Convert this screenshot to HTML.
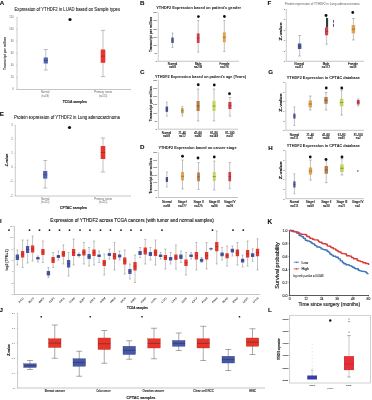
<!DOCTYPE html>
<html><head><meta charset="utf-8"><style>
html,body{margin:0;padding:0;background:#fff;width:372px;height:400px;overflow:hidden}
svg{display:block}
text{font-family:"Liberation Sans", sans-serif}
svg{will-change:transform}
</style></head><body>
<svg width="372" height="400" viewBox="0 0 372 400">
<rect width="372" height="400" fill="#fff"/>
<text x="-0.3" y="5" font-size="6.206" text-anchor="start" font-weight="bold" fill="#111" stroke="#111" stroke-width="0.1">A</text>
<text x="14.5" y="11.3" font-size="4.7" text-anchor="start" font-weight="normal" fill="#222" stroke="#222" stroke-width="0.08" textLength="105.5" lengthAdjust="spacingAndGlyphs">Expression of YTHDF2 in LUAD based on Sample types</text>
<line x1="17" y1="17.3" x2="17" y2="89.5" stroke="#999" stroke-width="0.5"/>
<line x1="17" y1="89.5" x2="131" y2="89.5" stroke="#888" stroke-width="0.5"/>
<text x="13.6" y="18.25" font-size="2.6" text-anchor="end" font-weight="normal" fill="#666">120</text>
<line x1="16" y1="17.3" x2="17" y2="17.3" stroke="#999" stroke-width="0.35"/>
<text x="13.6" y="30.25" font-size="2.6" text-anchor="end" font-weight="normal" fill="#666">100</text>
<line x1="16" y1="29.3" x2="17" y2="29.3" stroke="#999" stroke-width="0.35"/>
<text x="13.6" y="42.25" font-size="2.6" text-anchor="end" font-weight="normal" fill="#666">80</text>
<line x1="16" y1="41.3" x2="17" y2="41.3" stroke="#999" stroke-width="0.35"/>
<text x="13.6" y="54.35" font-size="2.6" text-anchor="end" font-weight="normal" fill="#666">60</text>
<line x1="16" y1="53.4" x2="17" y2="53.4" stroke="#999" stroke-width="0.35"/>
<text x="13.6" y="66.35000000000001" font-size="2.6" text-anchor="end" font-weight="normal" fill="#666">40</text>
<line x1="16" y1="65.4" x2="17" y2="65.4" stroke="#999" stroke-width="0.35"/>
<text x="13.6" y="78.35000000000001" font-size="2.6" text-anchor="end" font-weight="normal" fill="#666">20</text>
<line x1="16" y1="77.4" x2="17" y2="77.4" stroke="#999" stroke-width="0.35"/>
<text x="13.6" y="90.45" font-size="2.6" text-anchor="end" font-weight="normal" fill="#666">0</text>
<line x1="16" y1="89.5" x2="17" y2="89.5" stroke="#999" stroke-width="0.35"/>
<text x="6.2" y="53.4" font-size="3.3" text-anchor="middle" font-weight="bold" fill="#333" textLength="33" lengthAdjust="spacingAndGlyphs" transform="rotate(-90 6.2 53.4)">Transcript per million</text>
<line x1="45.8" y1="49.5" x2="45.8" y2="70" stroke="#777" stroke-width="0.45"/>
<line x1="43.8" y1="49.5" x2="47.8" y2="49.5" stroke="#777" stroke-width="0.45"/>
<line x1="43.8" y1="70" x2="47.8" y2="70" stroke="#777" stroke-width="0.45"/>
<rect x="43.699999999999996" y="57.5" width="4.2" height="6.0" fill="#5262b2" stroke="none" stroke-width="0"/>
<line x1="43.699999999999996" y1="60.5" x2="47.9" y2="60.5" stroke="#333" stroke-width="0.4"/>
<line x1="103" y1="30.4" x2="103" y2="76.6" stroke="#777" stroke-width="0.45"/>
<line x1="100.75" y1="30.4" x2="105.25" y2="30.4" stroke="#777" stroke-width="0.45"/>
<line x1="100.75" y1="76.6" x2="105.25" y2="76.6" stroke="#777" stroke-width="0.45"/>
<rect x="100.7" y="49.5" width="4.6" height="13.299999999999997" fill="#e8352b" stroke="none" stroke-width="0"/>
<line x1="100.7" y1="56.15" x2="105.3" y2="56.15" stroke="#333" stroke-width="0.4"/>
<circle cx="70" cy="19.5" r="1.6" fill="#111"/>
<text x="45.2" y="93.4" font-size="2.6" text-anchor="middle" font-weight="normal" fill="#666" textLength="8.5" lengthAdjust="spacingAndGlyphs">Normal</text>
<text x="45.2" y="96.8" font-size="2.6" text-anchor="middle" font-weight="normal" fill="#666" textLength="7.5" lengthAdjust="spacingAndGlyphs">(n=59)</text>
<text x="103.2" y="93.4" font-size="2.6" text-anchor="middle" font-weight="normal" fill="#666" textLength="18" lengthAdjust="spacingAndGlyphs">Primary tumor</text>
<text x="103.2" y="96.8" font-size="2.6" text-anchor="middle" font-weight="normal" fill="#666" textLength="8.5" lengthAdjust="spacingAndGlyphs">(n=515)</text>
<text x="74.8" y="103" font-size="3.4" text-anchor="middle" font-weight="bold" fill="#222" stroke="#222" stroke-width="0.1" textLength="24" lengthAdjust="spacingAndGlyphs">TCGA samples</text>
<text x="-0.3" y="116.2" font-size="6.206" text-anchor="start" font-weight="bold" fill="#111" stroke="#111" stroke-width="0.1">E</text>
<text x="14" y="119" font-size="4.7" text-anchor="start" font-weight="normal" fill="#222" stroke="#222" stroke-width="0.08" textLength="106" lengthAdjust="spacingAndGlyphs">Protein expression of YTHDF2 in Lung adenocarcinoma</text>
<line x1="15.3" y1="125" x2="15.3" y2="196" stroke="#999" stroke-width="0.5"/>
<line x1="15.3" y1="196" x2="131" y2="196" stroke="#888" stroke-width="0.5"/>
<text x="12.8" y="125.95" font-size="2.6" text-anchor="end" font-weight="normal" fill="#666">3</text>
<line x1="14.3" y1="125" x2="15.3" y2="125" stroke="#999" stroke-width="0.35"/>
<text x="12.8" y="139.95" font-size="2.6" text-anchor="end" font-weight="normal" fill="#666">2</text>
<line x1="14.3" y1="139" x2="15.3" y2="139" stroke="#999" stroke-width="0.35"/>
<text x="12.8" y="153.95" font-size="2.6" text-anchor="end" font-weight="normal" fill="#666">1</text>
<line x1="14.3" y1="153" x2="15.3" y2="153" stroke="#999" stroke-width="0.35"/>
<text x="12.8" y="168.45" font-size="2.6" text-anchor="end" font-weight="normal" fill="#666">0</text>
<line x1="14.3" y1="167.5" x2="15.3" y2="167.5" stroke="#999" stroke-width="0.35"/>
<text x="12.8" y="182.45" font-size="2.6" text-anchor="end" font-weight="normal" fill="#666">-1</text>
<line x1="14.3" y1="181.5" x2="15.3" y2="181.5" stroke="#999" stroke-width="0.35"/>
<text x="12.8" y="196.95" font-size="2.6" text-anchor="end" font-weight="normal" fill="#666">-2</text>
<line x1="14.3" y1="196" x2="15.3" y2="196" stroke="#999" stroke-width="0.35"/>
<text x="7.9" y="160" font-size="3.3" text-anchor="middle" font-weight="bold" fill="#222" stroke="#222" stroke-width="0.12" textLength="12.5" lengthAdjust="spacingAndGlyphs" transform="rotate(-90 7.9 160)">Z-value</text>
<line x1="45.2" y1="160.5" x2="45.2" y2="188" stroke="#777" stroke-width="0.45"/>
<line x1="43.2" y1="160.5" x2="47.2" y2="160.5" stroke="#777" stroke-width="0.45"/>
<line x1="43.2" y1="188" x2="47.2" y2="188" stroke="#777" stroke-width="0.45"/>
<rect x="43.1" y="171" width="4.2" height="7.599999999999994" fill="#5262b2" stroke="none" stroke-width="0"/>
<line x1="43.1" y1="174.8" x2="47.300000000000004" y2="174.8" stroke="#333" stroke-width="0.4"/>
<line x1="103" y1="138" x2="103" y2="172" stroke="#777" stroke-width="0.45"/>
<line x1="100.75" y1="138" x2="105.25" y2="138" stroke="#777" stroke-width="0.45"/>
<line x1="100.75" y1="172" x2="105.25" y2="172" stroke="#777" stroke-width="0.45"/>
<rect x="100.7" y="146" width="4.6" height="13" fill="#e8352b" stroke="none" stroke-width="0"/>
<line x1="100.7" y1="152.5" x2="105.3" y2="152.5" stroke="#333" stroke-width="0.4"/>
<circle cx="69.5" cy="127.5" r="1.6" fill="#111"/>
<text x="45.2" y="199.8" font-size="2.6" text-anchor="middle" font-weight="normal" fill="#666" textLength="8.5" lengthAdjust="spacingAndGlyphs">Normal</text>
<text x="45.2" y="203.2" font-size="2.6" text-anchor="middle" font-weight="normal" fill="#666" textLength="8.5" lengthAdjust="spacingAndGlyphs">(n=111)</text>
<text x="103.2" y="199.8" font-size="2.6" text-anchor="middle" font-weight="normal" fill="#666" textLength="18" lengthAdjust="spacingAndGlyphs">Primary tumor</text>
<text x="103.2" y="203.2" font-size="2.6" text-anchor="middle" font-weight="normal" fill="#666" textLength="8.5" lengthAdjust="spacingAndGlyphs">(n=111)</text>
<text x="73.5" y="208.6" font-size="3.5" text-anchor="middle" font-weight="bold" fill="#222" stroke="#222" stroke-width="0.1" textLength="27" lengthAdjust="spacingAndGlyphs">CPTAC samples</text>
<text x="140" y="4.9" font-size="6.206" text-anchor="start" font-weight="bold" fill="#111" stroke="#111" stroke-width="0.1">B</text>
<text x="156.3" y="9.3" font-size="4.1" text-anchor="start" font-weight="bold" fill="#222" stroke="#222" stroke-width="0.04" textLength="84.69999999999999" lengthAdjust="spacingAndGlyphs">YTHDF2 Expression based on patient's gender</text>
<line x1="158.25" y1="12.5" x2="158.25" y2="61.25" stroke="#999" stroke-width="0.5"/>
<line x1="158.25" y1="61.25" x2="238.75" y2="61.25" stroke="#888" stroke-width="0.5"/>
<line x1="157.25" y1="12.5" x2="158.25" y2="12.5" stroke="#aaa" stroke-width="0.3"/>
<text x="156.85" y="13.3" font-size="2.2" text-anchor="end" font-weight="normal" fill="#666" stroke="#666" stroke-width="0.06">300</text>
<line x1="157.25" y1="20.625" x2="158.25" y2="20.625" stroke="#aaa" stroke-width="0.3"/>
<text x="156.85" y="21.425" font-size="2.2" text-anchor="end" font-weight="normal" fill="#666" stroke="#666" stroke-width="0.06">250</text>
<line x1="157.25" y1="28.75" x2="158.25" y2="28.75" stroke="#aaa" stroke-width="0.3"/>
<text x="156.85" y="29.55" font-size="2.2" text-anchor="end" font-weight="normal" fill="#666" stroke="#666" stroke-width="0.06">200</text>
<line x1="157.25" y1="36.875" x2="158.25" y2="36.875" stroke="#aaa" stroke-width="0.3"/>
<text x="156.85" y="37.675" font-size="2.2" text-anchor="end" font-weight="normal" fill="#666" stroke="#666" stroke-width="0.06">150</text>
<line x1="157.25" y1="45.0" x2="158.25" y2="45.0" stroke="#aaa" stroke-width="0.3"/>
<text x="156.85" y="45.8" font-size="2.2" text-anchor="end" font-weight="normal" fill="#666" stroke="#666" stroke-width="0.06">100</text>
<line x1="157.25" y1="53.125" x2="158.25" y2="53.125" stroke="#aaa" stroke-width="0.3"/>
<text x="156.85" y="53.925" font-size="2.2" text-anchor="end" font-weight="normal" fill="#666" stroke="#666" stroke-width="0.06">50</text>
<line x1="157.25" y1="61.25" x2="158.25" y2="61.25" stroke="#aaa" stroke-width="0.3"/>
<text x="156.85" y="62.05" font-size="2.2" text-anchor="end" font-weight="normal" fill="#666" stroke="#666" stroke-width="0.06">0</text>
<text x="152" y="34.4" font-size="3.45" text-anchor="middle" font-weight="bold" fill="#222" stroke="#222" stroke-width="0.15" textLength="35" lengthAdjust="spacingAndGlyphs" transform="rotate(-90 152 34.4)">Transcript per million</text>
<line x1="172.5" y1="33" x2="172.5" y2="47.5" stroke="#777" stroke-width="0.45"/>
<line x1="171.516" y1="33" x2="173.484" y2="33" stroke="#777" stroke-width="0.45"/>
<line x1="171.516" y1="47.5" x2="173.484" y2="47.5" stroke="#777" stroke-width="0.45"/>
<rect x="171.27" y="37.5" width="2.46" height="5.5" fill="#4a5598" stroke="none" stroke-width="0"/>
<line x1="171.27" y1="40.25" x2="173.73" y2="40.25" stroke="#333" stroke-width="0.4"/>
<line x1="198.2" y1="20.5" x2="198.2" y2="52" stroke="#777" stroke-width="0.45"/>
<line x1="197.11759999999998" y1="20.5" x2="199.2824" y2="20.5" stroke="#777" stroke-width="0.45"/>
<line x1="197.11759999999998" y1="52" x2="199.2824" y2="52" stroke="#777" stroke-width="0.45"/>
<rect x="196.84699999999998" y="33.4" width="2.7059999999999995" height="9.600000000000001" fill="#d23c44" stroke="none" stroke-width="0"/>
<line x1="196.84699999999998" y1="38.2" x2="199.553" y2="38.2" stroke="#333" stroke-width="0.4"/>
<line x1="224.3" y1="20.5" x2="224.3" y2="51.5" stroke="#777" stroke-width="0.45"/>
<line x1="223.15200000000002" y1="20.5" x2="225.448" y2="20.5" stroke="#777" stroke-width="0.45"/>
<line x1="223.15200000000002" y1="51.5" x2="225.448" y2="51.5" stroke="#777" stroke-width="0.45"/>
<rect x="222.865" y="32.3" width="2.8699999999999997" height="9.900000000000006" fill="#e3a24a" stroke="none" stroke-width="0"/>
<line x1="222.865" y1="37.25" x2="225.735" y2="37.25" stroke="#333" stroke-width="0.4"/>
<circle cx="198.4" cy="16.6" r="1.4" fill="#111"/>
<circle cx="224.4" cy="16.5" r="1.4" fill="#111"/>
<text x="172.5" y="64.5" font-size="2.95" text-anchor="middle" font-weight="normal" fill="#222" stroke="#222" stroke-width="0.14">Normal</text>
<text x="172.5" y="67.8" font-size="2.95" text-anchor="middle" font-weight="normal" fill="#222" stroke="#222" stroke-width="0.14">n=59</text>
<text x="198.1" y="64.5" font-size="2.95" text-anchor="middle" font-weight="normal" fill="#222" stroke="#222" stroke-width="0.14">Male</text>
<text x="198.1" y="67.8" font-size="2.95" text-anchor="middle" font-weight="normal" fill="#222" stroke="#222" stroke-width="0.14">n=238</text>
<text x="224.5" y="64.5" font-size="2.95" text-anchor="middle" font-weight="normal" fill="#222" stroke="#222" stroke-width="0.14">Female</text>
<text x="224.5" y="67.8" font-size="2.95" text-anchor="middle" font-weight="normal" fill="#222" stroke="#222" stroke-width="0.14">n=276</text>
<text x="140" y="74" font-size="6.206" text-anchor="start" font-weight="bold" fill="#111" stroke="#111" stroke-width="0.1">C</text>
<text x="155" y="78" font-size="4.1" text-anchor="start" font-weight="bold" fill="#222" stroke="#222" stroke-width="0.04" textLength="91" lengthAdjust="spacingAndGlyphs">YTHDF2 Expression based on patient's age (Years)</text>
<line x1="158.4" y1="79.8" x2="158.4" y2="129.2" stroke="#999" stroke-width="0.5"/>
<line x1="158.4" y1="129.2" x2="238" y2="129.2" stroke="#888" stroke-width="0.5"/>
<line x1="157.4" y1="79.8" x2="158.4" y2="79.8" stroke="#aaa" stroke-width="0.3"/>
<text x="157.0" y="80.6" font-size="2.2" text-anchor="end" font-weight="normal" fill="#666" stroke="#666" stroke-width="0.06">300</text>
<line x1="157.4" y1="88.03333333333333" x2="158.4" y2="88.03333333333333" stroke="#aaa" stroke-width="0.3"/>
<text x="157.0" y="88.83333333333333" font-size="2.2" text-anchor="end" font-weight="normal" fill="#666" stroke="#666" stroke-width="0.06">250</text>
<line x1="157.4" y1="96.26666666666667" x2="158.4" y2="96.26666666666667" stroke="#aaa" stroke-width="0.3"/>
<text x="157.0" y="97.06666666666666" font-size="2.2" text-anchor="end" font-weight="normal" fill="#666" stroke="#666" stroke-width="0.06">200</text>
<line x1="157.4" y1="104.5" x2="158.4" y2="104.5" stroke="#aaa" stroke-width="0.3"/>
<text x="157.0" y="105.3" font-size="2.2" text-anchor="end" font-weight="normal" fill="#666" stroke="#666" stroke-width="0.06">150</text>
<line x1="157.4" y1="112.73333333333332" x2="158.4" y2="112.73333333333332" stroke="#aaa" stroke-width="0.3"/>
<text x="157.0" y="113.53333333333332" font-size="2.2" text-anchor="end" font-weight="normal" fill="#666" stroke="#666" stroke-width="0.06">100</text>
<line x1="157.4" y1="120.96666666666665" x2="158.4" y2="120.96666666666665" stroke="#aaa" stroke-width="0.3"/>
<text x="157.0" y="121.76666666666665" font-size="2.2" text-anchor="end" font-weight="normal" fill="#666" stroke="#666" stroke-width="0.06">50</text>
<line x1="157.4" y1="129.2" x2="158.4" y2="129.2" stroke="#aaa" stroke-width="0.3"/>
<text x="157.0" y="130.0" font-size="2.2" text-anchor="end" font-weight="normal" fill="#666" stroke="#666" stroke-width="0.06">0</text>
<text x="152" y="103.9" font-size="3.45" text-anchor="middle" font-weight="bold" fill="#222" stroke="#222" stroke-width="0.15" textLength="35" lengthAdjust="spacingAndGlyphs" transform="rotate(-90 152 103.9)">Transcript per million</text>
<line x1="166.85" y1="102.2" x2="166.85" y2="116.2" stroke="#777" stroke-width="0.45"/>
<line x1="165.86599999999999" y1="102.2" x2="167.834" y2="102.2" stroke="#777" stroke-width="0.45"/>
<line x1="165.86599999999999" y1="116.2" x2="167.834" y2="116.2" stroke="#777" stroke-width="0.45"/>
<rect x="165.62" y="106.5" width="2.46" height="5.400000000000006" fill="#4a5598" stroke="none" stroke-width="0"/>
<line x1="165.62" y1="109.2" x2="168.07999999999998" y2="109.2" stroke="#333" stroke-width="0.4"/>
<line x1="182.35" y1="106.5" x2="182.35" y2="116" stroke="#777" stroke-width="0.45"/>
<line x1="181.36599999999999" y1="106.5" x2="183.334" y2="106.5" stroke="#777" stroke-width="0.45"/>
<line x1="181.36599999999999" y1="116" x2="183.334" y2="116" stroke="#777" stroke-width="0.45"/>
<rect x="181.12" y="108.1" width="2.46" height="5.400000000000006" fill="#c89a42" stroke="none" stroke-width="0"/>
<line x1="181.12" y1="110.8" x2="183.57999999999998" y2="110.8" stroke="#333" stroke-width="0.4"/>
<line x1="198.1" y1="89" x2="198.1" y2="121" stroke="#777" stroke-width="0.45"/>
<line x1="196.87" y1="89" x2="199.32999999999998" y2="89" stroke="#777" stroke-width="0.45"/>
<line x1="196.87" y1="121" x2="199.32999999999998" y2="121" stroke="#777" stroke-width="0.45"/>
<rect x="196.5625" y="101" width="3.0749999999999997" height="10" fill="#b47c4a" stroke="none" stroke-width="0"/>
<line x1="196.5625" y1="106.0" x2="199.6375" y2="106.0" stroke="#333" stroke-width="0.4"/>
<line x1="214" y1="89" x2="214" y2="121" stroke="#777" stroke-width="0.45"/>
<line x1="212.77" y1="89" x2="215.23" y2="89" stroke="#777" stroke-width="0.45"/>
<line x1="212.77" y1="121" x2="215.23" y2="121" stroke="#777" stroke-width="0.45"/>
<rect x="212.4625" y="101" width="3.0749999999999997" height="10" fill="#c6d45c" stroke="none" stroke-width="0"/>
<line x1="212.4625" y1="106.0" x2="215.5375" y2="106.0" stroke="#333" stroke-width="0.4"/>
<line x1="229.9" y1="97.5" x2="229.9" y2="116" stroke="#777" stroke-width="0.45"/>
<line x1="228.67000000000002" y1="97.5" x2="231.13" y2="97.5" stroke="#777" stroke-width="0.45"/>
<line x1="228.67000000000002" y1="116" x2="231.13" y2="116" stroke="#777" stroke-width="0.45"/>
<rect x="228.3625" y="102" width="3.0749999999999997" height="7" fill="#d23c44" stroke="none" stroke-width="0"/>
<line x1="228.3625" y1="105.5" x2="231.4375" y2="105.5" stroke="#333" stroke-width="0.4"/>
<circle cx="198.25" cy="84.75" r="1.4" fill="#111"/>
<circle cx="214.25" cy="85" r="1.4" fill="#111"/>
<circle cx="229.5" cy="93.75" r="1.4" fill="#111"/>
<text x="166.5" y="133.8" font-size="2.95" text-anchor="middle" font-weight="normal" fill="#222" stroke="#222" stroke-width="0.14">Normal</text>
<text x="166.5" y="137" font-size="2.95" text-anchor="middle" font-weight="normal" fill="#222" stroke="#222" stroke-width="0.14">n=59</text>
<text x="182.25" y="133.8" font-size="2.95" text-anchor="middle" font-weight="normal" fill="#222" stroke="#222" stroke-width="0.14">21-40</text>
<text x="182.25" y="137" font-size="2.95" text-anchor="middle" font-weight="normal" fill="#222" stroke="#222" stroke-width="0.14">n=12</text>
<text x="198.1" y="133.8" font-size="2.95" text-anchor="middle" font-weight="normal" fill="#222" stroke="#222" stroke-width="0.14">41-60</text>
<text x="198.1" y="137" font-size="2.95" text-anchor="middle" font-weight="normal" fill="#222" stroke="#222" stroke-width="0.14">n=90</text>
<text x="214" y="133.8" font-size="2.95" text-anchor="middle" font-weight="normal" fill="#222" stroke="#222" stroke-width="0.14">61-80</text>
<text x="214" y="137" font-size="2.95" text-anchor="middle" font-weight="normal" fill="#222" stroke="#222" stroke-width="0.14">n=149</text>
<text x="229.9" y="133.8" font-size="2.95" text-anchor="middle" font-weight="normal" fill="#222" stroke="#222" stroke-width="0.14">81-100</text>
<text x="229.9" y="137" font-size="2.95" text-anchor="middle" font-weight="normal" fill="#222" stroke="#222" stroke-width="0.14">n=32</text>
<text x="140" y="149.3" font-size="6.206" text-anchor="start" font-weight="bold" fill="#111" stroke="#111" stroke-width="0.1">D</text>
<text x="158.5" y="149.4" font-size="4.1" text-anchor="start" font-weight="bold" fill="#222" stroke="#222" stroke-width="0.04" textLength="78.0" lengthAdjust="spacingAndGlyphs">YTHDF2 Expression based on cancer stage</text>
<line x1="158.4" y1="152.3" x2="158.4" y2="197.5" stroke="#999" stroke-width="0.5"/>
<line x1="158.4" y1="197.5" x2="238" y2="197.5" stroke="#888" stroke-width="0.5"/>
<line x1="157.4" y1="152.3" x2="158.4" y2="152.3" stroke="#aaa" stroke-width="0.3"/>
<text x="157.0" y="153.10000000000002" font-size="2.2" text-anchor="end" font-weight="normal" fill="#666" stroke="#666" stroke-width="0.06">300</text>
<line x1="157.4" y1="159.83333333333334" x2="158.4" y2="159.83333333333334" stroke="#aaa" stroke-width="0.3"/>
<text x="157.0" y="160.63333333333335" font-size="2.2" text-anchor="end" font-weight="normal" fill="#666" stroke="#666" stroke-width="0.06">250</text>
<line x1="157.4" y1="167.36666666666667" x2="158.4" y2="167.36666666666667" stroke="#aaa" stroke-width="0.3"/>
<text x="157.0" y="168.16666666666669" font-size="2.2" text-anchor="end" font-weight="normal" fill="#666" stroke="#666" stroke-width="0.06">200</text>
<line x1="157.4" y1="174.9" x2="158.4" y2="174.9" stroke="#aaa" stroke-width="0.3"/>
<text x="157.0" y="175.70000000000002" font-size="2.2" text-anchor="end" font-weight="normal" fill="#666" stroke="#666" stroke-width="0.06">150</text>
<line x1="157.4" y1="182.43333333333334" x2="158.4" y2="182.43333333333334" stroke="#aaa" stroke-width="0.3"/>
<text x="157.0" y="183.23333333333335" font-size="2.2" text-anchor="end" font-weight="normal" fill="#666" stroke="#666" stroke-width="0.06">100</text>
<line x1="157.4" y1="189.96666666666667" x2="158.4" y2="189.96666666666667" stroke="#aaa" stroke-width="0.3"/>
<text x="157.0" y="190.76666666666668" font-size="2.2" text-anchor="end" font-weight="normal" fill="#666" stroke="#666" stroke-width="0.06">50</text>
<line x1="157.4" y1="197.5" x2="158.4" y2="197.5" stroke="#aaa" stroke-width="0.3"/>
<text x="157.0" y="198.3" font-size="2.2" text-anchor="end" font-weight="normal" fill="#666" stroke="#666" stroke-width="0.06">0</text>
<text x="152" y="175.9" font-size="3.45" text-anchor="middle" font-weight="bold" fill="#222" stroke="#222" stroke-width="0.15" textLength="35.5" lengthAdjust="spacingAndGlyphs" transform="rotate(-90 152 175.9)">Transcript per million</text>
<line x1="166.9" y1="172" x2="166.9" y2="187" stroke="#777" stroke-width="0.45"/>
<line x1="165.99800000000002" y1="172" x2="167.802" y2="172" stroke="#777" stroke-width="0.45"/>
<line x1="165.99800000000002" y1="187" x2="167.802" y2="187" stroke="#777" stroke-width="0.45"/>
<rect x="165.7725" y="177" width="2.255" height="5" fill="#4a5598" stroke="none" stroke-width="0"/>
<line x1="165.7725" y1="179.5" x2="168.0275" y2="179.5" stroke="#333" stroke-width="0.4"/>
<line x1="182.5" y1="160" x2="182.5" y2="189" stroke="#777" stroke-width="0.45"/>
<line x1="181.352" y1="160" x2="183.648" y2="160" stroke="#777" stroke-width="0.45"/>
<line x1="181.352" y1="189" x2="183.648" y2="189" stroke="#777" stroke-width="0.45"/>
<rect x="181.065" y="172" width="2.8699999999999997" height="8.5" fill="#e3a24a" stroke="none" stroke-width="0"/>
<line x1="181.065" y1="176.25" x2="183.935" y2="176.25" stroke="#333" stroke-width="0.4"/>
<line x1="198.5" y1="162.5" x2="198.5" y2="189.5" stroke="#777" stroke-width="0.45"/>
<line x1="197.434" y1="162.5" x2="199.566" y2="162.5" stroke="#777" stroke-width="0.45"/>
<line x1="197.434" y1="189.5" x2="199.566" y2="189.5" stroke="#777" stroke-width="0.45"/>
<rect x="197.1675" y="172.5" width="2.665" height="8.75" fill="#b47c4a" stroke="none" stroke-width="0"/>
<line x1="197.1675" y1="176.875" x2="199.8325" y2="176.875" stroke="#333" stroke-width="0.4"/>
<line x1="214.25" y1="161" x2="214.25" y2="190" stroke="#777" stroke-width="0.45"/>
<line x1="213.102" y1="161" x2="215.398" y2="161" stroke="#777" stroke-width="0.45"/>
<line x1="213.102" y1="190" x2="215.398" y2="190" stroke="#777" stroke-width="0.45"/>
<rect x="212.815" y="172" width="2.8699999999999997" height="9" fill="#c6d45c" stroke="none" stroke-width="0"/>
<line x1="212.815" y1="176.5" x2="215.685" y2="176.5" stroke="#333" stroke-width="0.4"/>
<line x1="229.75" y1="162.5" x2="229.75" y2="188.75" stroke="#777" stroke-width="0.45"/>
<line x1="228.684" y1="162.5" x2="230.816" y2="162.5" stroke="#777" stroke-width="0.45"/>
<line x1="228.684" y1="188.75" x2="230.816" y2="188.75" stroke="#777" stroke-width="0.45"/>
<rect x="228.4175" y="172" width="2.665" height="9.25" fill="#d23c44" stroke="none" stroke-width="0"/>
<line x1="228.4175" y1="176.625" x2="231.0825" y2="176.625" stroke="#333" stroke-width="0.4"/>
<circle cx="182.5" cy="156.25" r="1.4" fill="#111"/>
<circle cx="198" cy="158" r="1.4" fill="#111"/>
<circle cx="214.25" cy="157" r="1.4" fill="#111"/>
<text x="166.9" y="203.2" font-size="2.95" text-anchor="middle" font-weight="normal" fill="#222" stroke="#222" stroke-width="0.14">Normal</text>
<text x="166.9" y="207.3" font-size="2.95" text-anchor="middle" font-weight="normal" fill="#222" stroke="#222" stroke-width="0.14">n=59</text>
<text x="182.5" y="203.2" font-size="2.95" text-anchor="middle" font-weight="normal" fill="#222" stroke="#222" stroke-width="0.14">Stage I</text>
<text x="182.5" y="207.3" font-size="2.95" text-anchor="middle" font-weight="normal" fill="#222" stroke="#222" stroke-width="0.14">n=277</text>
<text x="198.5" y="203.2" font-size="2.95" text-anchor="middle" font-weight="normal" fill="#222" stroke="#222" stroke-width="0.14">Stage II</text>
<text x="198.5" y="207.3" font-size="2.95" text-anchor="middle" font-weight="normal" fill="#222" stroke="#222" stroke-width="0.14">n=125</text>
<text x="214.25" y="203.2" font-size="2.95" text-anchor="middle" font-weight="normal" fill="#222" stroke="#222" stroke-width="0.14">Stage III</text>
<text x="214.25" y="207.3" font-size="2.95" text-anchor="middle" font-weight="normal" fill="#222" stroke="#222" stroke-width="0.14">n=86</text>
<text x="229.75" y="203.2" font-size="2.95" text-anchor="middle" font-weight="normal" fill="#222" stroke="#222" stroke-width="0.14">Stage IV</text>
<text x="229.75" y="207.3" font-size="2.95" text-anchor="middle" font-weight="normal" fill="#222" stroke="#222" stroke-width="0.14">n=26</text>
<text x="267.5" y="4.9" font-size="6.206" text-anchor="start" font-weight="bold" fill="#111" stroke="#111" stroke-width="0.1">F</text>
<text x="285" y="4.6" font-size="3.0" text-anchor="start" font-weight="normal" fill="#5a5a5a" textLength="74.5" lengthAdjust="spacingAndGlyphs">Protein expression of YTHDF2 in Lung adenocarcinoma</text>
<line x1="286.3" y1="9" x2="286.3" y2="61.25" stroke="#999" stroke-width="0.5"/>
<line x1="286.3" y1="61.25" x2="364" y2="61.25" stroke="#888" stroke-width="0.5"/>
<line x1="285.3" y1="9.0" x2="286.3" y2="9.0" stroke="#aaa" stroke-width="0.3"/>
<text x="284.90000000000003" y="9.8" font-size="2.2" text-anchor="end" font-weight="normal" fill="#666" stroke="#666" stroke-width="0.06">2</text>
<line x1="285.3" y1="19.45" x2="286.3" y2="19.45" stroke="#aaa" stroke-width="0.3"/>
<text x="284.90000000000003" y="20.25" font-size="2.2" text-anchor="end" font-weight="normal" fill="#666" stroke="#666" stroke-width="0.06">1</text>
<line x1="285.3" y1="29.9" x2="286.3" y2="29.9" stroke="#aaa" stroke-width="0.3"/>
<text x="284.90000000000003" y="30.7" font-size="2.2" text-anchor="end" font-weight="normal" fill="#666" stroke="#666" stroke-width="0.06">0</text>
<line x1="285.3" y1="40.35" x2="286.3" y2="40.35" stroke="#aaa" stroke-width="0.3"/>
<text x="284.90000000000003" y="41.15" font-size="2.2" text-anchor="end" font-weight="normal" fill="#666" stroke="#666" stroke-width="0.06">-1</text>
<line x1="285.3" y1="50.8" x2="286.3" y2="50.8" stroke="#aaa" stroke-width="0.3"/>
<text x="284.90000000000003" y="51.599999999999994" font-size="2.2" text-anchor="end" font-weight="normal" fill="#666" stroke="#666" stroke-width="0.06">-2</text>
<line x1="285.3" y1="61.25" x2="286.3" y2="61.25" stroke="#aaa" stroke-width="0.3"/>
<text x="284.90000000000003" y="62.05" font-size="2.2" text-anchor="end" font-weight="normal" fill="#666" stroke="#666" stroke-width="0.06">-3</text>
<text x="281.7" y="31.4" font-size="4.4" text-anchor="middle" font-weight="bold" fill="#222" stroke="#222" stroke-width="0.15" textLength="18" lengthAdjust="spacingAndGlyphs" transform="rotate(-90 281.7 31.4)">Z-value</text>
<line x1="299.6" y1="35.5" x2="299.6" y2="56" stroke="#777" stroke-width="0.45"/>
<line x1="298.214" y1="35.5" x2="300.98600000000005" y2="35.5" stroke="#777" stroke-width="0.45"/>
<line x1="298.214" y1="56" x2="300.98600000000005" y2="56" stroke="#777" stroke-width="0.45"/>
<rect x="297.8675" y="43.5" width="3.465" height="5.5" fill="#4a5598" stroke="none" stroke-width="0"/>
<line x1="297.8675" y1="46.25" x2="301.33250000000004" y2="46.25" stroke="#333" stroke-width="0.4"/>
<line x1="326.6" y1="15" x2="326.6" y2="44.2" stroke="#777" stroke-width="0.45"/>
<line x1="325.34000000000003" y1="15" x2="327.86" y2="15" stroke="#777" stroke-width="0.45"/>
<line x1="325.34000000000003" y1="44.2" x2="327.86" y2="44.2" stroke="#777" stroke-width="0.45"/>
<rect x="325.02500000000003" y="27.4" width="3.1500000000000004" height="7.899999999999999" fill="#d8404a" stroke="none" stroke-width="0"/>
<line x1="325.02500000000003" y1="31.349999999999998" x2="328.175" y2="31.349999999999998" stroke="#333" stroke-width="0.4"/>
<line x1="353.4" y1="18.5" x2="353.4" y2="40" stroke="#777" stroke-width="0.45"/>
<line x1="352.01399999999995" y1="18.5" x2="354.786" y2="18.5" stroke="#777" stroke-width="0.45"/>
<line x1="352.01399999999995" y1="40" x2="354.786" y2="40" stroke="#777" stroke-width="0.45"/>
<rect x="351.66749999999996" y="25" width="3.465" height="8.299999999999997" fill="#e3a24a" stroke="none" stroke-width="0"/>
<line x1="351.66749999999996" y1="29.15" x2="355.1325" y2="29.15" stroke="#333" stroke-width="0.4"/>
<circle cx="326" cy="15.5" r="1.4" fill="#111"/>
<circle cx="352.75" cy="12.5" r="1.4" fill="#111"/>
<text x="299.25" y="64.8" font-size="2.95" text-anchor="middle" font-weight="normal" fill="#222" stroke="#222" stroke-width="0.14">Normal</text>
<text x="299.25" y="68" font-size="2.95" text-anchor="middle" font-weight="normal" fill="#222" stroke="#222" stroke-width="0.14">n=111</text>
<text x="326" y="64.8" font-size="2.95" text-anchor="middle" font-weight="normal" fill="#222" stroke="#222" stroke-width="0.14">Male</text>
<text x="326" y="68" font-size="2.95" text-anchor="middle" font-weight="normal" fill="#222" stroke="#222" stroke-width="0.14">n=172</text>
<text x="353" y="64.8" font-size="2.95" text-anchor="middle" font-weight="normal" fill="#222" stroke="#222" stroke-width="0.14">Female</text>
<text x="353" y="68" font-size="2.95" text-anchor="middle" font-weight="normal" fill="#222" stroke="#222" stroke-width="0.14">n=38</text>
<rect x="326" y="18" width="2.1" height="9.4" fill="#2f4038" stroke="none" stroke-width="0"/>
<line x1="333.5" y1="20" x2="333.5" y2="22.7" stroke="#445" stroke-width="0.9"/>
<line x1="333.5" y1="23.8" x2="333.5" y2="26.9" stroke="#445" stroke-width="0.9"/>
<text x="268.3" y="74.2" font-size="6.206" text-anchor="start" font-weight="bold" fill="#111" stroke="#111" stroke-width="0.1">G</text>
<text x="286.8" y="79" font-size="4.1" text-anchor="start" font-weight="bold" fill="#222" stroke="#222" stroke-width="0.04" textLength="73.19999999999999" lengthAdjust="spacingAndGlyphs">YTHDF2 Expression in CPTAC database</text>
<line x1="285.9" y1="82.3" x2="285.9" y2="130.3" stroke="#999" stroke-width="0.5"/>
<line x1="285.9" y1="130.3" x2="364" y2="130.3" stroke="#888" stroke-width="0.5"/>
<line x1="284.9" y1="82.3" x2="285.9" y2="82.3" stroke="#aaa" stroke-width="0.3"/>
<text x="284.5" y="83.1" font-size="2.2" text-anchor="end" font-weight="normal" fill="#666" stroke="#666" stroke-width="0.06">2</text>
<line x1="284.9" y1="91.9" x2="285.9" y2="91.9" stroke="#aaa" stroke-width="0.3"/>
<text x="284.5" y="92.7" font-size="2.2" text-anchor="end" font-weight="normal" fill="#666" stroke="#666" stroke-width="0.06">1</text>
<line x1="284.9" y1="101.5" x2="285.9" y2="101.5" stroke="#aaa" stroke-width="0.3"/>
<text x="284.5" y="102.3" font-size="2.2" text-anchor="end" font-weight="normal" fill="#666" stroke="#666" stroke-width="0.06">0</text>
<line x1="284.9" y1="111.10000000000001" x2="285.9" y2="111.10000000000001" stroke="#aaa" stroke-width="0.3"/>
<text x="284.5" y="111.9" font-size="2.2" text-anchor="end" font-weight="normal" fill="#666" stroke="#666" stroke-width="0.06">-1</text>
<line x1="284.9" y1="120.70000000000002" x2="285.9" y2="120.70000000000002" stroke="#aaa" stroke-width="0.3"/>
<text x="284.5" y="121.50000000000001" font-size="2.2" text-anchor="end" font-weight="normal" fill="#666" stroke="#666" stroke-width="0.06">-2</text>
<line x1="284.9" y1="130.3" x2="285.9" y2="130.3" stroke="#aaa" stroke-width="0.3"/>
<text x="284.5" y="131.10000000000002" font-size="2.2" text-anchor="end" font-weight="normal" fill="#666" stroke="#666" stroke-width="0.06">-3</text>
<text x="281.8" y="102.5" font-size="4.4" text-anchor="middle" font-weight="bold" fill="#222" stroke="#222" stroke-width="0.15" textLength="18.3" lengthAdjust="spacingAndGlyphs" transform="rotate(-90 281.8 102.5)">Z-value</text>
<line x1="294.4" y1="106.8" x2="294.4" y2="125.5" stroke="#777" stroke-width="0.45"/>
<line x1="293.52" y1="106.8" x2="295.28" y2="106.8" stroke="#777" stroke-width="0.45"/>
<line x1="293.52" y1="125.5" x2="295.28" y2="125.5" stroke="#777" stroke-width="0.45"/>
<rect x="293.29999999999995" y="113.6" width="2.2" height="5.0" fill="#4a5598" stroke="none" stroke-width="0"/>
<line x1="293.29999999999995" y1="116.1" x2="295.5" y2="116.1" stroke="#333" stroke-width="0.4"/>
<line x1="310.25" y1="96" x2="310.25" y2="110" stroke="#777" stroke-width="0.45"/>
<line x1="308.93" y1="96" x2="311.57" y2="96" stroke="#777" stroke-width="0.45"/>
<line x1="308.93" y1="110" x2="311.57" y2="110" stroke="#777" stroke-width="0.45"/>
<rect x="308.6" y="100.5" width="3.3000000000000003" height="7.0" fill="#e3a24a" stroke="none" stroke-width="0"/>
<line x1="308.6" y1="104.0" x2="311.9" y2="104.0" stroke="#333" stroke-width="0.4"/>
<line x1="326" y1="92.5" x2="326" y2="110" stroke="#777" stroke-width="0.45"/>
<line x1="324.68" y1="92.5" x2="327.32" y2="92.5" stroke="#777" stroke-width="0.45"/>
<line x1="324.68" y1="110" x2="327.32" y2="110" stroke="#777" stroke-width="0.45"/>
<rect x="324.35" y="97" width="3.3000000000000003" height="6.75" fill="#b47c4a" stroke="none" stroke-width="0"/>
<line x1="324.35" y1="100.375" x2="327.65" y2="100.375" stroke="#333" stroke-width="0.4"/>
<line x1="341.6" y1="90" x2="341.6" y2="115" stroke="#777" stroke-width="0.45"/>
<line x1="340.17" y1="90" x2="343.03000000000003" y2="90" stroke="#777" stroke-width="0.45"/>
<line x1="340.17" y1="115" x2="343.03000000000003" y2="115" stroke="#777" stroke-width="0.45"/>
<rect x="339.8125" y="98.75" width="3.575" height="7.5" fill="#c6d45c" stroke="none" stroke-width="0"/>
<line x1="339.8125" y1="102.5" x2="343.38750000000005" y2="102.5" stroke="#333" stroke-width="0.4"/>
<line x1="358.25" y1="99" x2="358.25" y2="106" stroke="#777" stroke-width="0.45"/>
<line x1="357.15" y1="99" x2="359.35" y2="99" stroke="#777" stroke-width="0.45"/>
<line x1="357.15" y1="106" x2="359.35" y2="106" stroke="#777" stroke-width="0.45"/>
<rect x="356.875" y="100" width="2.75" height="4.5" fill="#d23c44" stroke="none" stroke-width="0"/>
<line x1="356.875" y1="102.25" x2="359.625" y2="102.25" stroke="#333" stroke-width="0.4"/>
<circle cx="326.25" cy="88" r="1.4" fill="#111"/>
<circle cx="341.75" cy="88" r="1.4" fill="#111"/>
<text x="294.4" y="135.6" font-size="2.95" text-anchor="middle" font-weight="normal" fill="#222" stroke="#222" stroke-width="0.14">Normal</text>
<text x="294.4" y="139" font-size="2.95" text-anchor="middle" font-weight="normal" fill="#222" stroke="#222" stroke-width="0.14">n=111</text>
<text x="310.25" y="135.6" font-size="2.95" text-anchor="middle" font-weight="normal" fill="#222" stroke="#222" stroke-width="0.14">21-40</text>
<text x="310.25" y="139" font-size="2.95" text-anchor="middle" font-weight="normal" fill="#222" stroke="#222" stroke-width="0.14">n=3</text>
<text x="326" y="135.6" font-size="2.95" text-anchor="middle" font-weight="normal" fill="#222" stroke="#222" stroke-width="0.14">41-60</text>
<text x="326" y="139" font-size="2.95" text-anchor="middle" font-weight="normal" fill="#222" stroke="#222" stroke-width="0.14">n=46</text>
<text x="341.6" y="135.6" font-size="2.95" text-anchor="middle" font-weight="normal" fill="#222" stroke="#222" stroke-width="0.14">61-80</text>
<text x="341.6" y="139" font-size="2.95" text-anchor="middle" font-weight="normal" fill="#222" stroke="#222" stroke-width="0.14">n=61</text>
<text x="358.25" y="135.6" font-size="2.95" text-anchor="middle" font-weight="normal" fill="#222" stroke="#222" stroke-width="0.14">81-100</text>
<text x="358.25" y="139" font-size="2.95" text-anchor="middle" font-weight="normal" fill="#222" stroke="#222" stroke-width="0.14">n=2</text>
<text x="268.2" y="150" font-size="6.206" text-anchor="start" font-weight="bold" fill="#111" stroke="#111" stroke-width="0.1">H</text>
<text x="286.8" y="146.5" font-size="4.1" text-anchor="start" font-weight="bold" fill="#222" stroke="#222" stroke-width="0.04" textLength="73.19999999999999" lengthAdjust="spacingAndGlyphs">YTHDF2 Expression in CPTAC database</text>
<line x1="285.9" y1="150.6" x2="285.9" y2="198.7" stroke="#999" stroke-width="0.5"/>
<line x1="285.9" y1="198.7" x2="364" y2="198.7" stroke="#888" stroke-width="0.5"/>
<line x1="284.9" y1="150.6" x2="285.9" y2="150.6" stroke="#aaa" stroke-width="0.3"/>
<text x="284.5" y="151.4" font-size="2.2" text-anchor="end" font-weight="normal" fill="#666" stroke="#666" stroke-width="0.06">2</text>
<line x1="284.9" y1="160.22" x2="285.9" y2="160.22" stroke="#aaa" stroke-width="0.3"/>
<text x="284.5" y="161.02" font-size="2.2" text-anchor="end" font-weight="normal" fill="#666" stroke="#666" stroke-width="0.06">1</text>
<line x1="284.9" y1="169.84" x2="285.9" y2="169.84" stroke="#aaa" stroke-width="0.3"/>
<text x="284.5" y="170.64000000000001" font-size="2.2" text-anchor="end" font-weight="normal" fill="#666" stroke="#666" stroke-width="0.06">0</text>
<line x1="284.9" y1="179.45999999999998" x2="285.9" y2="179.45999999999998" stroke="#aaa" stroke-width="0.3"/>
<text x="284.5" y="180.26" font-size="2.2" text-anchor="end" font-weight="normal" fill="#666" stroke="#666" stroke-width="0.06">-1</text>
<line x1="284.9" y1="189.07999999999998" x2="285.9" y2="189.07999999999998" stroke="#aaa" stroke-width="0.3"/>
<text x="284.5" y="189.88" font-size="2.2" text-anchor="end" font-weight="normal" fill="#666" stroke="#666" stroke-width="0.06">-2</text>
<line x1="284.9" y1="198.7" x2="285.9" y2="198.7" stroke="#aaa" stroke-width="0.3"/>
<text x="284.5" y="199.5" font-size="2.2" text-anchor="end" font-weight="normal" fill="#666" stroke="#666" stroke-width="0.06">-3</text>
<text x="281.6" y="170.3" font-size="4.4" text-anchor="middle" font-weight="bold" fill="#222" stroke="#222" stroke-width="0.15" textLength="18" lengthAdjust="spacingAndGlyphs" transform="rotate(-90 281.6 170.3)">Z-value</text>
<line x1="294.4" y1="173.75" x2="294.4" y2="193.75" stroke="#777" stroke-width="0.45"/>
<line x1="293.52" y1="173.75" x2="295.28" y2="173.75" stroke="#777" stroke-width="0.45"/>
<line x1="293.52" y1="193.75" x2="295.28" y2="193.75" stroke="#777" stroke-width="0.45"/>
<rect x="293.29999999999995" y="181.3" width="2.2" height="6.199999999999989" fill="#4a5598" stroke="none" stroke-width="0"/>
<line x1="293.29999999999995" y1="184.4" x2="295.5" y2="184.4" stroke="#333" stroke-width="0.4"/>
<line x1="310.5" y1="160" x2="310.5" y2="180" stroke="#777" stroke-width="0.45"/>
<line x1="309.18" y1="160" x2="311.82" y2="160" stroke="#777" stroke-width="0.45"/>
<line x1="309.18" y1="180" x2="311.82" y2="180" stroke="#777" stroke-width="0.45"/>
<rect x="308.85" y="167.5" width="3.3000000000000003" height="7.0" fill="#e3a24a" stroke="none" stroke-width="0"/>
<line x1="308.85" y1="171.0" x2="312.15" y2="171.0" stroke="#333" stroke-width="0.4"/>
<line x1="326.25" y1="159.5" x2="326.25" y2="182.5" stroke="#777" stroke-width="0.45"/>
<line x1="324.93" y1="159.5" x2="327.57" y2="159.5" stroke="#777" stroke-width="0.45"/>
<line x1="324.93" y1="182.5" x2="327.57" y2="182.5" stroke="#777" stroke-width="0.45"/>
<rect x="324.6" y="166" width="3.3000000000000003" height="7.75" fill="#b47c4a" stroke="none" stroke-width="0"/>
<line x1="324.6" y1="169.875" x2="327.9" y2="169.875" stroke="#333" stroke-width="0.4"/>
<line x1="341.9" y1="158.75" x2="341.9" y2="175" stroke="#777" stroke-width="0.45"/>
<line x1="340.46999999999997" y1="158.75" x2="343.33" y2="158.75" stroke="#777" stroke-width="0.45"/>
<line x1="340.46999999999997" y1="175" x2="343.33" y2="175" stroke="#777" stroke-width="0.45"/>
<rect x="340.11249999999995" y="164.5" width="3.575" height="7.5" fill="#c6d45c" stroke="none" stroke-width="0"/>
<line x1="340.11249999999995" y1="168.25" x2="343.6875" y2="168.25" stroke="#333" stroke-width="0.4"/>
<line x1="357.75" y1="170.5" x2="357.75" y2="171.5" stroke="#777" stroke-width="0.45"/>
<line x1="357.09" y1="170.5" x2="358.41" y2="170.5" stroke="#777" stroke-width="0.45"/>
<line x1="357.09" y1="171.5" x2="358.41" y2="171.5" stroke="#777" stroke-width="0.45"/>
<rect x="356.925" y="170.6" width="1.6500000000000001" height="0.8000000000000114" fill="#bbb" stroke="none" stroke-width="0"/>
<line x1="356.925" y1="171.0" x2="358.575" y2="171.0" stroke="#333" stroke-width="0.4"/>
<circle cx="310.25" cy="157" r="1.4" fill="#111"/>
<circle cx="326" cy="159.5" r="1.4" fill="#111"/>
<circle cx="342" cy="157" r="1.4" fill="#111"/>
<text x="294.4" y="203.3" font-size="2.95" text-anchor="middle" font-weight="normal" fill="#222" stroke="#222" stroke-width="0.14">Normal</text>
<text x="294.4" y="207.4" font-size="2.95" text-anchor="middle" font-weight="normal" fill="#222" stroke="#222" stroke-width="0.14">n=111</text>
<text x="310.5" y="203.3" font-size="2.95" text-anchor="middle" font-weight="normal" fill="#222" stroke="#222" stroke-width="0.14">Stage I</text>
<text x="310.5" y="207.4" font-size="2.95" text-anchor="middle" font-weight="normal" fill="#222" stroke="#222" stroke-width="0.14">n=58</text>
<text x="326.25" y="203.3" font-size="2.95" text-anchor="middle" font-weight="normal" fill="#222" stroke="#222" stroke-width="0.14">Stage II</text>
<text x="326.25" y="207.4" font-size="2.95" text-anchor="middle" font-weight="normal" fill="#222" stroke="#222" stroke-width="0.14">n=30</text>
<text x="341.9" y="203.3" font-size="2.95" text-anchor="middle" font-weight="normal" fill="#222" stroke="#222" stroke-width="0.14">Stage III</text>
<text x="341.9" y="207.4" font-size="2.95" text-anchor="middle" font-weight="normal" fill="#222" stroke="#222" stroke-width="0.14">n=21</text>
<text x="357.75" y="203.3" font-size="2.95" text-anchor="middle" font-weight="normal" fill="#222" stroke="#222" stroke-width="0.14">Stage IV</text>
<text x="357.75" y="207.4" font-size="2.95" text-anchor="middle" font-weight="normal" fill="#222" stroke="#222" stroke-width="0.14">n=1</text>
<text x="0" y="223.3" font-size="5.885000000000001" text-anchor="start" font-weight="bold" fill="#111" stroke="#111" stroke-width="0.1">I</text>
<text x="50.3" y="222" font-size="4.7" text-anchor="start" font-weight="normal" fill="#222" stroke="#222" stroke-width="0.12" textLength="163.5" lengthAdjust="spacingAndGlyphs">Expression of YTHDF2 across TCGA cancers (with tumor and normal samples)</text>
<line x1="14.3" y1="226" x2="14.3" y2="294.5" stroke="#888" stroke-width="0.5"/>
<line x1="14.3" y1="294.5" x2="260" y2="294.5" stroke="#888" stroke-width="0.5"/>
<line x1="13.3" y1="226.0" x2="14.3" y2="226.0" stroke="#888" stroke-width="0.4"/>
<text x="12.6" y="226.8" font-size="2.2" text-anchor="end" font-weight="normal" fill="#555">12</text>
<line x1="13.3" y1="237.41666666666666" x2="14.3" y2="237.41666666666666" stroke="#888" stroke-width="0.4"/>
<text x="12.6" y="238.21666666666667" font-size="2.2" text-anchor="end" font-weight="normal" fill="#555">10</text>
<line x1="13.3" y1="248.83333333333334" x2="14.3" y2="248.83333333333334" stroke="#888" stroke-width="0.4"/>
<text x="12.6" y="249.63333333333335" font-size="2.2" text-anchor="end" font-weight="normal" fill="#555">8</text>
<line x1="13.3" y1="260.25" x2="14.3" y2="260.25" stroke="#888" stroke-width="0.4"/>
<text x="12.6" y="261.05" font-size="2.2" text-anchor="end" font-weight="normal" fill="#555">6</text>
<line x1="13.3" y1="271.6666666666667" x2="14.3" y2="271.6666666666667" stroke="#888" stroke-width="0.4"/>
<text x="12.6" y="272.4666666666667" font-size="2.2" text-anchor="end" font-weight="normal" fill="#555">4</text>
<line x1="13.3" y1="283.0833333333333" x2="14.3" y2="283.0833333333333" stroke="#888" stroke-width="0.4"/>
<text x="12.6" y="283.8833333333333" font-size="2.2" text-anchor="end" font-weight="normal" fill="#555">2</text>
<line x1="13.3" y1="294.5" x2="14.3" y2="294.5" stroke="#888" stroke-width="0.4"/>
<text x="12.6" y="295.3" font-size="2.2" text-anchor="end" font-weight="normal" fill="#555">0</text>
<text x="8.2" y="260" font-size="2.8" text-anchor="middle" font-weight="bold" fill="#333" stroke="#333" stroke-width="0.06" textLength="21" lengthAdjust="spacingAndGlyphs" transform="rotate(-90 8.2 260)">log2 (TPM+1)</text>
<line x1="17.4" y1="250" x2="17.4" y2="265" stroke="#777" stroke-width="0.45"/>
<line x1="16.4" y1="250" x2="18.4" y2="250" stroke="#777" stroke-width="0.45"/>
<line x1="16.4" y1="265" x2="18.4" y2="265" stroke="#777" stroke-width="0.45"/>
<rect x="15.749999999999998" y="254.5" width="3.3" height="5.5" fill="#4858a8" stroke="none" stroke-width="0"/>
<line x1="15.749999999999998" y1="257.25" x2="19.049999999999997" y2="257.25" stroke="#333" stroke-width="0.4"/>
<line x1="22.6" y1="240" x2="22.6" y2="267.5" stroke="#777" stroke-width="0.45"/>
<line x1="21.6" y1="240" x2="23.6" y2="240" stroke="#777" stroke-width="0.45"/>
<line x1="21.6" y1="267.5" x2="23.6" y2="267.5" stroke="#777" stroke-width="0.45"/>
<rect x="20.950000000000003" y="251" width="3.3" height="6.5" fill="#e8352b" stroke="none" stroke-width="0"/>
<line x1="20.950000000000003" y1="254.25" x2="24.25" y2="254.25" stroke="#333" stroke-width="0.4"/>
<line x1="27.6" y1="240" x2="27.6" y2="263" stroke="#777" stroke-width="0.45"/>
<line x1="26.6" y1="240" x2="28.6" y2="240" stroke="#777" stroke-width="0.45"/>
<line x1="26.6" y1="263" x2="28.6" y2="263" stroke="#777" stroke-width="0.45"/>
<rect x="25.950000000000003" y="246" width="3.3" height="7" fill="#4858a8" stroke="none" stroke-width="0"/>
<line x1="25.950000000000003" y1="249.5" x2="29.25" y2="249.5" stroke="#333" stroke-width="0.4"/>
<line x1="32.6" y1="236" x2="32.6" y2="261" stroke="#777" stroke-width="0.45"/>
<line x1="31.6" y1="236" x2="33.6" y2="236" stroke="#777" stroke-width="0.45"/>
<line x1="31.6" y1="261" x2="33.6" y2="261" stroke="#777" stroke-width="0.45"/>
<rect x="30.950000000000003" y="245.5" width="3.3" height="7.0" fill="#e8352b" stroke="none" stroke-width="0"/>
<line x1="30.950000000000003" y1="249.0" x2="34.25" y2="249.0" stroke="#333" stroke-width="0.4"/>
<line x1="37.9" y1="256" x2="37.9" y2="262" stroke="#777" stroke-width="0.45"/>
<line x1="36.9" y1="256" x2="38.9" y2="256" stroke="#777" stroke-width="0.45"/>
<line x1="36.9" y1="262" x2="38.9" y2="262" stroke="#777" stroke-width="0.45"/>
<rect x="36.25" y="257" width="3.3" height="2.5" fill="#4858a8" stroke="none" stroke-width="0"/>
<line x1="36.25" y1="258.25" x2="39.55" y2="258.25" stroke="#333" stroke-width="0.4"/>
<line x1="42.9" y1="241" x2="42.9" y2="262.5" stroke="#777" stroke-width="0.45"/>
<line x1="41.9" y1="241" x2="43.9" y2="241" stroke="#777" stroke-width="0.45"/>
<line x1="41.9" y1="262.5" x2="43.9" y2="262.5" stroke="#777" stroke-width="0.45"/>
<rect x="41.25" y="249" width="3.3" height="6" fill="#e8352b" stroke="none" stroke-width="0"/>
<line x1="41.25" y1="252.0" x2="44.55" y2="252.0" stroke="#333" stroke-width="0.4"/>
<line x1="48.4" y1="267.5" x2="48.4" y2="277.5" stroke="#777" stroke-width="0.45"/>
<line x1="47.4" y1="267.5" x2="49.4" y2="267.5" stroke="#777" stroke-width="0.45"/>
<line x1="47.4" y1="277.5" x2="49.4" y2="277.5" stroke="#777" stroke-width="0.45"/>
<rect x="46.75" y="271" width="3.3" height="4.5" fill="#4858a8" stroke="none" stroke-width="0"/>
<line x1="46.75" y1="273.25" x2="50.05" y2="273.25" stroke="#333" stroke-width="0.4"/>
<line x1="53.1" y1="252.5" x2="53.1" y2="267.5" stroke="#777" stroke-width="0.45"/>
<line x1="52.1" y1="252.5" x2="54.1" y2="252.5" stroke="#777" stroke-width="0.45"/>
<line x1="52.1" y1="267.5" x2="54.1" y2="267.5" stroke="#777" stroke-width="0.45"/>
<rect x="51.45" y="257" width="3.3" height="6" fill="#e8352b" stroke="none" stroke-width="0"/>
<line x1="51.45" y1="260.0" x2="54.75" y2="260.0" stroke="#333" stroke-width="0.4"/>
<line x1="58.4" y1="251" x2="58.4" y2="260" stroke="#777" stroke-width="0.45"/>
<line x1="57.4" y1="251" x2="59.4" y2="251" stroke="#777" stroke-width="0.45"/>
<line x1="57.4" y1="260" x2="59.4" y2="260" stroke="#777" stroke-width="0.45"/>
<rect x="56.75" y="255" width="3.3" height="3" fill="#4858a8" stroke="none" stroke-width="0"/>
<line x1="56.75" y1="256.5" x2="60.05" y2="256.5" stroke="#333" stroke-width="0.4"/>
<line x1="63.4" y1="245" x2="63.4" y2="264" stroke="#777" stroke-width="0.45"/>
<line x1="62.4" y1="245" x2="64.4" y2="245" stroke="#777" stroke-width="0.45"/>
<line x1="62.4" y1="264" x2="64.4" y2="264" stroke="#777" stroke-width="0.45"/>
<rect x="61.75" y="251" width="3.3" height="5.75" fill="#e8352b" stroke="none" stroke-width="0"/>
<line x1="61.75" y1="253.875" x2="65.05" y2="253.875" stroke="#333" stroke-width="0.4"/>
<line x1="68.6" y1="252.5" x2="68.6" y2="276" stroke="#777" stroke-width="0.45"/>
<line x1="67.6" y1="252.5" x2="69.6" y2="252.5" stroke="#777" stroke-width="0.45"/>
<line x1="67.6" y1="276" x2="69.6" y2="276" stroke="#777" stroke-width="0.45"/>
<rect x="66.94999999999999" y="260" width="3.3" height="7.5" fill="#4858a8" stroke="none" stroke-width="0"/>
<line x1="66.94999999999999" y1="263.75" x2="70.25" y2="263.75" stroke="#333" stroke-width="0.4"/>
<line x1="73.6" y1="239" x2="73.6" y2="265" stroke="#777" stroke-width="0.45"/>
<line x1="72.6" y1="239" x2="74.6" y2="239" stroke="#777" stroke-width="0.45"/>
<line x1="72.6" y1="265" x2="74.6" y2="265" stroke="#777" stroke-width="0.45"/>
<rect x="71.94999999999999" y="249" width="3.3" height="7" fill="#e8352b" stroke="none" stroke-width="0"/>
<line x1="71.94999999999999" y1="252.5" x2="75.25" y2="252.5" stroke="#333" stroke-width="0.4"/>
<line x1="78.9" y1="253" x2="78.9" y2="257" stroke="#777" stroke-width="0.45"/>
<line x1="77.9" y1="253" x2="79.9" y2="253" stroke="#777" stroke-width="0.45"/>
<line x1="77.9" y1="257" x2="79.9" y2="257" stroke="#777" stroke-width="0.45"/>
<rect x="77.25" y="254" width="3.3" height="2" fill="#4858a8" stroke="none" stroke-width="0"/>
<line x1="77.25" y1="255.0" x2="80.55000000000001" y2="255.0" stroke="#333" stroke-width="0.4"/>
<line x1="83.9" y1="242.5" x2="83.9" y2="264" stroke="#777" stroke-width="0.45"/>
<line x1="82.9" y1="242.5" x2="84.9" y2="242.5" stroke="#777" stroke-width="0.45"/>
<line x1="82.9" y1="264" x2="84.9" y2="264" stroke="#777" stroke-width="0.45"/>
<rect x="82.25" y="249.5" width="3.3" height="6.0" fill="#e8352b" stroke="none" stroke-width="0"/>
<line x1="82.25" y1="252.5" x2="85.55000000000001" y2="252.5" stroke="#333" stroke-width="0.4"/>
<line x1="89.1" y1="247.5" x2="89.1" y2="266" stroke="#777" stroke-width="0.45"/>
<line x1="88.1" y1="247.5" x2="90.1" y2="247.5" stroke="#777" stroke-width="0.45"/>
<line x1="88.1" y1="266" x2="90.1" y2="266" stroke="#777" stroke-width="0.45"/>
<rect x="87.44999999999999" y="254" width="3.3" height="5" fill="#4858a8" stroke="none" stroke-width="0"/>
<line x1="87.44999999999999" y1="256.5" x2="90.75" y2="256.5" stroke="#333" stroke-width="0.4"/>
<line x1="94" y1="241" x2="94" y2="265" stroke="#777" stroke-width="0.45"/>
<line x1="93.0" y1="241" x2="95.0" y2="241" stroke="#777" stroke-width="0.45"/>
<line x1="93.0" y1="265" x2="95.0" y2="265" stroke="#777" stroke-width="0.45"/>
<rect x="92.35" y="249.5" width="3.3" height="6.5" fill="#e8352b" stroke="none" stroke-width="0"/>
<line x1="92.35" y1="252.75" x2="95.65" y2="252.75" stroke="#333" stroke-width="0.4"/>
<line x1="99.1" y1="251" x2="99.1" y2="262.5" stroke="#777" stroke-width="0.45"/>
<line x1="98.1" y1="251" x2="100.1" y2="251" stroke="#777" stroke-width="0.45"/>
<line x1="98.1" y1="262.5" x2="100.1" y2="262.5" stroke="#777" stroke-width="0.45"/>
<rect x="97.44999999999999" y="254.5" width="3.3" height="2.5" fill="#4858a8" stroke="none" stroke-width="0"/>
<line x1="97.44999999999999" y1="255.75" x2="100.75" y2="255.75" stroke="#333" stroke-width="0.4"/>
<line x1="104.25" y1="254" x2="104.25" y2="275" stroke="#777" stroke-width="0.45"/>
<line x1="103.25" y1="254" x2="105.25" y2="254" stroke="#777" stroke-width="0.45"/>
<line x1="103.25" y1="275" x2="105.25" y2="275" stroke="#777" stroke-width="0.45"/>
<rect x="102.6" y="260" width="3.3" height="6" fill="#e8352b" stroke="none" stroke-width="0"/>
<line x1="102.6" y1="263.0" x2="105.9" y2="263.0" stroke="#333" stroke-width="0.4"/>
<line x1="109.4" y1="249" x2="109.4" y2="259" stroke="#777" stroke-width="0.45"/>
<line x1="108.4" y1="249" x2="110.4" y2="249" stroke="#777" stroke-width="0.45"/>
<line x1="108.4" y1="259" x2="110.4" y2="259" stroke="#777" stroke-width="0.45"/>
<rect x="107.75" y="253" width="3.3" height="3" fill="#4858a8" stroke="none" stroke-width="0"/>
<line x1="107.75" y1="254.5" x2="111.05000000000001" y2="254.5" stroke="#333" stroke-width="0.4"/>
<line x1="114.5" y1="242.5" x2="114.5" y2="270" stroke="#777" stroke-width="0.45"/>
<line x1="113.5" y1="242.5" x2="115.5" y2="242.5" stroke="#777" stroke-width="0.45"/>
<line x1="113.5" y1="270" x2="115.5" y2="270" stroke="#777" stroke-width="0.45"/>
<rect x="112.85" y="253" width="3.3" height="6.5" fill="#e8352b" stroke="none" stroke-width="0"/>
<line x1="112.85" y1="256.25" x2="116.15" y2="256.25" stroke="#333" stroke-width="0.4"/>
<line x1="119.6" y1="251" x2="119.6" y2="260" stroke="#777" stroke-width="0.45"/>
<line x1="118.6" y1="251" x2="120.6" y2="251" stroke="#777" stroke-width="0.45"/>
<line x1="118.6" y1="260" x2="120.6" y2="260" stroke="#777" stroke-width="0.45"/>
<rect x="117.94999999999999" y="254.5" width="3.3" height="3.0" fill="#4858a8" stroke="none" stroke-width="0"/>
<line x1="117.94999999999999" y1="256.0" x2="121.25" y2="256.0" stroke="#333" stroke-width="0.4"/>
<line x1="124.75" y1="250" x2="124.75" y2="274" stroke="#777" stroke-width="0.45"/>
<line x1="123.75" y1="250" x2="125.75" y2="250" stroke="#777" stroke-width="0.45"/>
<line x1="123.75" y1="274" x2="125.75" y2="274" stroke="#777" stroke-width="0.45"/>
<rect x="123.1" y="257.5" width="3.3" height="7.0" fill="#e8352b" stroke="none" stroke-width="0"/>
<line x1="123.1" y1="261.0" x2="126.4" y2="261.0" stroke="#333" stroke-width="0.4"/>
<line x1="129.9" y1="264" x2="129.9" y2="279" stroke="#777" stroke-width="0.45"/>
<line x1="128.9" y1="264" x2="130.9" y2="264" stroke="#777" stroke-width="0.45"/>
<line x1="128.9" y1="279" x2="130.9" y2="279" stroke="#777" stroke-width="0.45"/>
<rect x="128.25" y="269" width="3.3" height="5" fill="#4858a8" stroke="none" stroke-width="0"/>
<line x1="128.25" y1="271.5" x2="131.55" y2="271.5" stroke="#333" stroke-width="0.4"/>
<line x1="135" y1="255" x2="135" y2="282.5" stroke="#777" stroke-width="0.45"/>
<line x1="134.0" y1="255" x2="136.0" y2="255" stroke="#777" stroke-width="0.45"/>
<line x1="134.0" y1="282.5" x2="136.0" y2="282.5" stroke="#777" stroke-width="0.45"/>
<rect x="133.35" y="262" width="3.3" height="8.5" fill="#e8352b" stroke="none" stroke-width="0"/>
<line x1="133.35" y1="266.25" x2="136.65" y2="266.25" stroke="#333" stroke-width="0.4"/>
<line x1="140.1" y1="247.5" x2="140.1" y2="257.5" stroke="#777" stroke-width="0.45"/>
<line x1="139.1" y1="247.5" x2="141.1" y2="247.5" stroke="#777" stroke-width="0.45"/>
<line x1="139.1" y1="257.5" x2="141.1" y2="257.5" stroke="#777" stroke-width="0.45"/>
<rect x="138.45" y="251" width="3.3" height="4" fill="#4858a8" stroke="none" stroke-width="0"/>
<line x1="138.45" y1="253.0" x2="141.75" y2="253.0" stroke="#333" stroke-width="0.4"/>
<line x1="145.25" y1="239.5" x2="145.25" y2="264" stroke="#777" stroke-width="0.45"/>
<line x1="144.25" y1="239.5" x2="146.25" y2="239.5" stroke="#777" stroke-width="0.45"/>
<line x1="144.25" y1="264" x2="146.25" y2="264" stroke="#777" stroke-width="0.45"/>
<rect x="143.6" y="247.5" width="3.3" height="7.0" fill="#e8352b" stroke="none" stroke-width="0"/>
<line x1="143.6" y1="251.0" x2="146.9" y2="251.0" stroke="#333" stroke-width="0.4"/>
<line x1="150.4" y1="247.5" x2="150.4" y2="260" stroke="#777" stroke-width="0.45"/>
<line x1="149.4" y1="247.5" x2="151.4" y2="247.5" stroke="#777" stroke-width="0.45"/>
<line x1="149.4" y1="260" x2="151.4" y2="260" stroke="#777" stroke-width="0.45"/>
<rect x="148.75" y="252" width="3.3" height="4" fill="#4858a8" stroke="none" stroke-width="0"/>
<line x1="148.75" y1="254.0" x2="152.05" y2="254.0" stroke="#333" stroke-width="0.4"/>
<line x1="155.5" y1="240" x2="155.5" y2="265" stroke="#777" stroke-width="0.45"/>
<line x1="154.5" y1="240" x2="156.5" y2="240" stroke="#777" stroke-width="0.45"/>
<line x1="154.5" y1="265" x2="156.5" y2="265" stroke="#777" stroke-width="0.45"/>
<rect x="153.85" y="249.5" width="3.3" height="6.5" fill="#e8352b" stroke="none" stroke-width="0"/>
<line x1="153.85" y1="252.75" x2="157.15" y2="252.75" stroke="#333" stroke-width="0.4"/>
<line x1="160.6" y1="252.5" x2="160.6" y2="259" stroke="#777" stroke-width="0.45"/>
<line x1="159.6" y1="252.5" x2="161.6" y2="252.5" stroke="#777" stroke-width="0.45"/>
<line x1="159.6" y1="259" x2="161.6" y2="259" stroke="#777" stroke-width="0.45"/>
<rect x="158.95" y="254.5" width="3.3" height="2.5" fill="#4858a8" stroke="none" stroke-width="0"/>
<line x1="158.95" y1="255.75" x2="162.25" y2="255.75" stroke="#333" stroke-width="0.4"/>
<line x1="165.4" y1="249" x2="165.4" y2="269" stroke="#777" stroke-width="0.45"/>
<line x1="164.4" y1="249" x2="166.4" y2="249" stroke="#777" stroke-width="0.45"/>
<line x1="164.4" y1="269" x2="166.4" y2="269" stroke="#777" stroke-width="0.45"/>
<rect x="163.75" y="255" width="3.3" height="5" fill="#e8352b" stroke="none" stroke-width="0"/>
<line x1="163.75" y1="257.5" x2="167.05" y2="257.5" stroke="#333" stroke-width="0.4"/>
<line x1="170.6" y1="252.5" x2="170.6" y2="264" stroke="#777" stroke-width="0.45"/>
<line x1="169.6" y1="252.5" x2="171.6" y2="252.5" stroke="#777" stroke-width="0.45"/>
<line x1="169.6" y1="264" x2="171.6" y2="264" stroke="#777" stroke-width="0.45"/>
<rect x="168.95" y="257" width="3.3" height="3.5" fill="#4858a8" stroke="none" stroke-width="0"/>
<line x1="168.95" y1="258.75" x2="172.25" y2="258.75" stroke="#333" stroke-width="0.4"/>
<line x1="175.9" y1="245" x2="175.9" y2="269" stroke="#777" stroke-width="0.45"/>
<line x1="174.9" y1="245" x2="176.9" y2="245" stroke="#777" stroke-width="0.45"/>
<line x1="174.9" y1="269" x2="176.9" y2="269" stroke="#777" stroke-width="0.45"/>
<rect x="174.25" y="254.5" width="3.3" height="5.5" fill="#e8352b" stroke="none" stroke-width="0"/>
<line x1="174.25" y1="257.25" x2="177.55" y2="257.25" stroke="#333" stroke-width="0.4"/>
<line x1="180.9" y1="251" x2="180.9" y2="262.5" stroke="#777" stroke-width="0.45"/>
<line x1="179.9" y1="251" x2="181.9" y2="251" stroke="#777" stroke-width="0.45"/>
<line x1="179.9" y1="262.5" x2="181.9" y2="262.5" stroke="#777" stroke-width="0.45"/>
<rect x="179.25" y="254.5" width="3.3" height="4.5" fill="#4858a8" stroke="none" stroke-width="0"/>
<line x1="179.25" y1="256.75" x2="182.55" y2="256.75" stroke="#333" stroke-width="0.4"/>
<line x1="186" y1="252.5" x2="186" y2="275" stroke="#777" stroke-width="0.45"/>
<line x1="185.0" y1="252.5" x2="187.0" y2="252.5" stroke="#777" stroke-width="0.45"/>
<line x1="185.0" y1="275" x2="187.0" y2="275" stroke="#777" stroke-width="0.45"/>
<rect x="184.35" y="259.5" width="3.3" height="6.5" fill="#e8352b" stroke="none" stroke-width="0"/>
<line x1="184.35" y1="262.75" x2="187.65" y2="262.75" stroke="#333" stroke-width="0.4"/>
<line x1="191.1" y1="252.5" x2="191.1" y2="259" stroke="#777" stroke-width="0.45"/>
<line x1="190.1" y1="252.5" x2="192.1" y2="252.5" stroke="#777" stroke-width="0.45"/>
<line x1="190.1" y1="259" x2="192.1" y2="259" stroke="#777" stroke-width="0.45"/>
<rect x="189.45" y="254.5" width="3.3" height="2.5" fill="#4858a8" stroke="none" stroke-width="0"/>
<line x1="189.45" y1="255.75" x2="192.75" y2="255.75" stroke="#333" stroke-width="0.4"/>
<line x1="196.4" y1="242.5" x2="196.4" y2="270" stroke="#777" stroke-width="0.45"/>
<line x1="195.4" y1="242.5" x2="197.4" y2="242.5" stroke="#777" stroke-width="0.45"/>
<line x1="195.4" y1="270" x2="197.4" y2="270" stroke="#777" stroke-width="0.45"/>
<rect x="194.75" y="252" width="3.3" height="7.5" fill="#e8352b" stroke="none" stroke-width="0"/>
<line x1="194.75" y1="255.75" x2="198.05" y2="255.75" stroke="#333" stroke-width="0.4"/>
<line x1="201.6" y1="257.5" x2="201.6" y2="262.5" stroke="#777" stroke-width="0.45"/>
<line x1="200.6" y1="257.5" x2="202.6" y2="257.5" stroke="#777" stroke-width="0.45"/>
<line x1="200.6" y1="262.5" x2="202.6" y2="262.5" stroke="#777" stroke-width="0.45"/>
<rect x="199.95" y="258.75" width="3.3" height="3.0" fill="#4858a8" stroke="none" stroke-width="0"/>
<line x1="199.95" y1="260.25" x2="203.25" y2="260.25" stroke="#333" stroke-width="0.4"/>
<line x1="206.6" y1="242.5" x2="206.6" y2="269" stroke="#777" stroke-width="0.45"/>
<line x1="205.6" y1="242.5" x2="207.6" y2="242.5" stroke="#777" stroke-width="0.45"/>
<line x1="205.6" y1="269" x2="207.6" y2="269" stroke="#777" stroke-width="0.45"/>
<rect x="204.95" y="252" width="3.3" height="7.5" fill="#e8352b" stroke="none" stroke-width="0"/>
<line x1="204.95" y1="255.75" x2="208.25" y2="255.75" stroke="#333" stroke-width="0.4"/>
<line x1="211.0" y1="248" x2="211.0" y2="250" stroke="#777" stroke-width="0.45"/>
<line x1="210.0" y1="248" x2="212.0" y2="248" stroke="#777" stroke-width="0.45"/>
<line x1="210.0" y1="250" x2="212.0" y2="250" stroke="#777" stroke-width="0.45"/>
<rect x="209.35" y="248.3" width="3.3" height="1.0" fill="#4858a8" stroke="none" stroke-width="0"/>
<line x1="209.35" y1="248.8" x2="212.65" y2="248.8" stroke="#333" stroke-width="0.4"/>
<line x1="216.75" y1="231" x2="216.75" y2="264" stroke="#777" stroke-width="0.45"/>
<line x1="215.75" y1="231" x2="217.75" y2="231" stroke="#777" stroke-width="0.45"/>
<line x1="215.75" y1="264" x2="217.75" y2="264" stroke="#777" stroke-width="0.45"/>
<rect x="215.1" y="242" width="3.3" height="9.25" fill="#e8352b" stroke="none" stroke-width="0"/>
<line x1="215.1" y1="246.625" x2="218.4" y2="246.625" stroke="#333" stroke-width="0.4"/>
<line x1="222.1" y1="247.5" x2="222.1" y2="260" stroke="#777" stroke-width="0.45"/>
<line x1="221.1" y1="247.5" x2="223.1" y2="247.5" stroke="#777" stroke-width="0.45"/>
<line x1="221.1" y1="260" x2="223.1" y2="260" stroke="#777" stroke-width="0.45"/>
<rect x="220.45" y="252.5" width="3.3" height="3.75" fill="#4858a8" stroke="none" stroke-width="0"/>
<line x1="220.45" y1="254.375" x2="223.75" y2="254.375" stroke="#333" stroke-width="0.4"/>
<line x1="227.1" y1="246" x2="227.1" y2="266" stroke="#777" stroke-width="0.45"/>
<line x1="226.1" y1="246" x2="228.1" y2="246" stroke="#777" stroke-width="0.45"/>
<line x1="226.1" y1="266" x2="228.1" y2="266" stroke="#777" stroke-width="0.45"/>
<rect x="225.45" y="253.25" width="3.3" height="5.0" fill="#e8352b" stroke="none" stroke-width="0"/>
<line x1="225.45" y1="255.75" x2="228.75" y2="255.75" stroke="#333" stroke-width="0.4"/>
<line x1="232.4" y1="246" x2="232.4" y2="256" stroke="#777" stroke-width="0.45"/>
<line x1="231.4" y1="246" x2="233.4" y2="246" stroke="#777" stroke-width="0.45"/>
<line x1="231.4" y1="256" x2="233.4" y2="256" stroke="#777" stroke-width="0.45"/>
<rect x="230.75" y="248.75" width="3.3" height="3.75" fill="#4858a8" stroke="none" stroke-width="0"/>
<line x1="230.75" y1="250.625" x2="234.05" y2="250.625" stroke="#333" stroke-width="0.4"/>
<line x1="237.4" y1="242.5" x2="237.4" y2="265" stroke="#777" stroke-width="0.45"/>
<line x1="236.4" y1="242.5" x2="238.4" y2="242.5" stroke="#777" stroke-width="0.45"/>
<line x1="236.4" y1="265" x2="238.4" y2="265" stroke="#777" stroke-width="0.45"/>
<rect x="235.75" y="249.5" width="3.3" height="6.75" fill="#e8352b" stroke="none" stroke-width="0"/>
<line x1="235.75" y1="252.875" x2="239.05" y2="252.875" stroke="#333" stroke-width="0.4"/>
<line x1="242.6" y1="255" x2="242.6" y2="267" stroke="#777" stroke-width="0.45"/>
<line x1="241.6" y1="255" x2="243.6" y2="255" stroke="#777" stroke-width="0.45"/>
<line x1="241.6" y1="267" x2="243.6" y2="267" stroke="#777" stroke-width="0.45"/>
<rect x="240.95" y="258.75" width="3.3" height="3.75" fill="#4858a8" stroke="none" stroke-width="0"/>
<line x1="240.95" y1="260.625" x2="244.25" y2="260.625" stroke="#333" stroke-width="0.4"/>
<line x1="247.6" y1="241" x2="247.6" y2="266" stroke="#777" stroke-width="0.45"/>
<line x1="246.6" y1="241" x2="248.6" y2="241" stroke="#777" stroke-width="0.45"/>
<line x1="246.6" y1="266" x2="248.6" y2="266" stroke="#777" stroke-width="0.45"/>
<rect x="245.95" y="250" width="3.3" height="7.5" fill="#e8352b" stroke="none" stroke-width="0"/>
<line x1="245.95" y1="253.75" x2="249.25" y2="253.75" stroke="#333" stroke-width="0.4"/>
<line x1="252.6" y1="248.75" x2="252.6" y2="261.25" stroke="#777" stroke-width="0.45"/>
<line x1="251.6" y1="248.75" x2="253.6" y2="248.75" stroke="#777" stroke-width="0.45"/>
<line x1="251.6" y1="261.25" x2="253.6" y2="261.25" stroke="#777" stroke-width="0.45"/>
<rect x="250.95" y="253.25" width="3.3" height="3.75" fill="#4858a8" stroke="none" stroke-width="0"/>
<line x1="250.95" y1="255.125" x2="254.25" y2="255.125" stroke="#333" stroke-width="0.4"/>
<line x1="257.5" y1="238.75" x2="257.5" y2="270" stroke="#777" stroke-width="0.45"/>
<line x1="256.5" y1="238.75" x2="258.5" y2="238.75" stroke="#777" stroke-width="0.45"/>
<line x1="256.5" y1="270" x2="258.5" y2="270" stroke="#777" stroke-width="0.45"/>
<rect x="255.85" y="248.75" width="3.3" height="7.5" fill="#e8352b" stroke="none" stroke-width="0"/>
<line x1="255.85" y1="252.5" x2="259.15" y2="252.5" stroke="#333" stroke-width="0.4"/>
<circle cx="9" cy="230.1" r="0.95" fill="#111"/>
<circle cx="29.5" cy="230.1" r="0.95" fill="#111"/>
<circle cx="39.5" cy="230.1" r="0.95" fill="#111"/>
<circle cx="49.5" cy="230.1" r="0.95" fill="#111"/>
<circle cx="59.5" cy="230.1" r="0.95" fill="#111"/>
<circle cx="69.5" cy="230.1" r="0.95" fill="#111"/>
<circle cx="80" cy="230.1" r="0.95" fill="#111"/>
<circle cx="90" cy="230.1" r="0.95" fill="#111"/>
<circle cx="100.5" cy="230.1" r="0.95" fill="#111"/>
<circle cx="110.5" cy="230.1" r="0.95" fill="#111"/>
<circle cx="121" cy="230.1" r="0.95" fill="#111"/>
<circle cx="131" cy="230.1" r="0.95" fill="#111"/>
<circle cx="141" cy="230.1" r="0.95" fill="#111"/>
<circle cx="162" cy="230.1" r="0.95" fill="#111"/>
<circle cx="212.5" cy="230.1" r="0.95" fill="#111"/>
<circle cx="233" cy="230.1" r="0.95" fill="#111"/>
<circle cx="243.25" cy="230.1" r="0.95" fill="#111"/>
<text x="24.2" y="298.3" font-size="2.6" text-anchor="end" font-weight="bold" fill="#333" textLength="7" lengthAdjust="spacingAndGlyphs" transform="rotate(-45 24.2 298.3)">ACC</text>
<text x="34.4" y="298.3" font-size="2.6" text-anchor="end" font-weight="bold" fill="#333" textLength="7" lengthAdjust="spacingAndGlyphs" transform="rotate(-45 34.4 298.3)">BLCA</text>
<text x="44.599999999999994" y="298.3" font-size="2.6" text-anchor="end" font-weight="bold" fill="#333" textLength="7" lengthAdjust="spacingAndGlyphs" transform="rotate(-45 44.599999999999994 298.3)">BRCA</text>
<text x="54.8" y="298.3" font-size="2.6" text-anchor="end" font-weight="bold" fill="#333" textLength="7" lengthAdjust="spacingAndGlyphs" transform="rotate(-45 54.8 298.3)">CESC</text>
<text x="65.0" y="298.3" font-size="2.6" text-anchor="end" font-weight="bold" fill="#333" textLength="7" lengthAdjust="spacingAndGlyphs" transform="rotate(-45 65.0 298.3)">CHOL</text>
<text x="75.2" y="298.3" font-size="2.6" text-anchor="end" font-weight="bold" fill="#333" textLength="7" lengthAdjust="spacingAndGlyphs" transform="rotate(-45 75.2 298.3)">COAD</text>
<text x="85.39999999999999" y="298.3" font-size="2.6" text-anchor="end" font-weight="bold" fill="#333" textLength="7" lengthAdjust="spacingAndGlyphs" transform="rotate(-45 85.39999999999999 298.3)">DLBC</text>
<text x="95.6" y="298.3" font-size="2.6" text-anchor="end" font-weight="bold" fill="#333" textLength="7" lengthAdjust="spacingAndGlyphs" transform="rotate(-45 95.6 298.3)">ESCA</text>
<text x="105.8" y="298.3" font-size="2.6" text-anchor="end" font-weight="bold" fill="#333" textLength="7" lengthAdjust="spacingAndGlyphs" transform="rotate(-45 105.8 298.3)">GBM</text>
<text x="116.0" y="298.3" font-size="2.6" text-anchor="end" font-weight="bold" fill="#333" textLength="7" lengthAdjust="spacingAndGlyphs" transform="rotate(-45 116.0 298.3)">HNSC</text>
<text x="126.2" y="298.3" font-size="2.6" text-anchor="end" font-weight="bold" fill="#333" textLength="7" lengthAdjust="spacingAndGlyphs" transform="rotate(-45 126.2 298.3)">KICH</text>
<text x="136.39999999999998" y="298.3" font-size="2.6" text-anchor="end" font-weight="bold" fill="#333" textLength="7" lengthAdjust="spacingAndGlyphs" transform="rotate(-45 136.39999999999998 298.3)">KIRC</text>
<text x="146.6" y="298.3" font-size="2.6" text-anchor="end" font-weight="bold" fill="#333" textLength="7" lengthAdjust="spacingAndGlyphs" transform="rotate(-45 146.6 298.3)">KIRP</text>
<text x="156.79999999999998" y="298.3" font-size="2.6" text-anchor="end" font-weight="bold" fill="#333" textLength="7" lengthAdjust="spacingAndGlyphs" transform="rotate(-45 156.79999999999998 298.3)">LAML</text>
<text x="166.99999999999997" y="298.3" font-size="2.6" text-anchor="end" font-weight="bold" fill="#333" textLength="7" lengthAdjust="spacingAndGlyphs" transform="rotate(-45 166.99999999999997 298.3)">LGG</text>
<text x="177.2" y="298.3" font-size="2.6" text-anchor="end" font-weight="bold" fill="#333" textLength="7" lengthAdjust="spacingAndGlyphs" transform="rotate(-45 177.2 298.3)">LIHC</text>
<text x="187.39999999999998" y="298.3" font-size="2.6" text-anchor="end" font-weight="bold" fill="#333" textLength="7" lengthAdjust="spacingAndGlyphs" transform="rotate(-45 187.39999999999998 298.3)">LUSC</text>
<text x="197.59999999999997" y="298.3" font-size="2.6" text-anchor="end" font-weight="bold" fill="#333" textLength="7" lengthAdjust="spacingAndGlyphs" transform="rotate(-45 197.59999999999997 298.3)">OV</text>
<text x="207.79999999999998" y="298.3" font-size="2.6" text-anchor="end" font-weight="bold" fill="#333" textLength="7" lengthAdjust="spacingAndGlyphs" transform="rotate(-45 207.79999999999998 298.3)">PAAD</text>
<text x="217.99999999999997" y="298.3" font-size="2.6" text-anchor="end" font-weight="bold" fill="#333" textLength="7" lengthAdjust="spacingAndGlyphs" transform="rotate(-45 217.99999999999997 298.3)">PRAD</text>
<text x="228.2" y="298.3" font-size="2.6" text-anchor="end" font-weight="bold" fill="#333" textLength="7" lengthAdjust="spacingAndGlyphs" transform="rotate(-45 228.2 298.3)">READ</text>
<text x="238.39999999999998" y="298.3" font-size="2.6" text-anchor="end" font-weight="bold" fill="#333" textLength="7" lengthAdjust="spacingAndGlyphs" transform="rotate(-45 238.39999999999998 298.3)">STAD</text>
<text x="248.59999999999997" y="298.3" font-size="2.6" text-anchor="end" font-weight="bold" fill="#333" textLength="7" lengthAdjust="spacingAndGlyphs" transform="rotate(-45 248.59999999999997 298.3)">UCEC</text>
<text x="258.8" y="298.3" font-size="2.6" text-anchor="end" font-weight="bold" fill="#333" textLength="7" lengthAdjust="spacingAndGlyphs" transform="rotate(-45 258.8 298.3)">UCS</text>
<text x="137.5" y="309.4" font-size="3.0" text-anchor="middle" font-weight="bold" fill="#222" stroke="#222" stroke-width="0.1" textLength="20.8" lengthAdjust="spacingAndGlyphs">TCGA samples</text>
<text x="-0.5" y="311.8" font-size="6.206" text-anchor="start" font-weight="bold" fill="#111" stroke="#111" stroke-width="0.1">J</text>
<line x1="17.6" y1="313" x2="17.6" y2="388" stroke="#999" stroke-width="0.5"/>
<line x1="17.6" y1="388" x2="265" y2="388" stroke="#888" stroke-width="0.5"/>
<line x1="16.6" y1="313.4" x2="17.6" y2="313.4" stroke="#999" stroke-width="0.35"/>
<text x="15.0" y="314.2" font-size="2.0" text-anchor="end" font-weight="normal" fill="#555" textLength="3.2" lengthAdjust="spacingAndGlyphs">2.0</text>
<line x1="16.6" y1="328.3" x2="17.6" y2="328.3" stroke="#999" stroke-width="0.35"/>
<text x="15.0" y="329.1" font-size="2.0" text-anchor="end" font-weight="normal" fill="#555" textLength="3.2" lengthAdjust="spacingAndGlyphs">1.5</text>
<line x1="16.6" y1="343.2" x2="17.6" y2="343.2" stroke="#999" stroke-width="0.35"/>
<text x="15.0" y="344.0" font-size="2.0" text-anchor="end" font-weight="normal" fill="#555" textLength="3.2" lengthAdjust="spacingAndGlyphs">1.0</text>
<line x1="16.6" y1="358.1" x2="17.6" y2="358.1" stroke="#999" stroke-width="0.35"/>
<text x="15.0" y="358.90000000000003" font-size="2.0" text-anchor="end" font-weight="normal" fill="#555" textLength="3.2" lengthAdjust="spacingAndGlyphs">0.5</text>
<line x1="16.6" y1="373" x2="17.6" y2="373" stroke="#999" stroke-width="0.35"/>
<text x="15.0" y="373.8" font-size="2.0" text-anchor="end" font-weight="normal" fill="#555" textLength="3.2" lengthAdjust="spacingAndGlyphs">0.0</text>
<line x1="16.6" y1="388" x2="17.6" y2="388" stroke="#999" stroke-width="0.35"/>
<text x="15.0" y="388.8" font-size="2.0" text-anchor="end" font-weight="normal" fill="#555" textLength="3.2" lengthAdjust="spacingAndGlyphs">-0.5</text>
<text x="9.6" y="350" font-size="3.0" text-anchor="middle" font-weight="bold" fill="#222" stroke="#222" stroke-width="0.12" textLength="11.7" lengthAdjust="spacingAndGlyphs" transform="rotate(-90 9.6 350)">Z-value</text>
<line x1="30" y1="360.5" x2="30" y2="369.5" stroke="#555" stroke-width="0.5"/>
<line x1="27.0" y1="360.5" x2="33.0" y2="360.5" stroke="#555" stroke-width="0.5"/>
<line x1="27.0" y1="369.5" x2="33.0" y2="369.5" stroke="#555" stroke-width="0.5"/>
<rect x="23.75" y="363.75" width="12.5" height="3.75" fill="#4858a8" stroke="#2a3580" stroke-width="0.35"/>
<line x1="23.75" y1="365.625" x2="36.25" y2="365.625" stroke="#222" stroke-width="0.4"/>
<line x1="54.75" y1="325" x2="54.75" y2="358.25" stroke="#555" stroke-width="0.5"/>
<line x1="51.75" y1="325" x2="57.75" y2="325" stroke="#555" stroke-width="0.5"/>
<line x1="51.75" y1="358.25" x2="57.75" y2="358.25" stroke="#555" stroke-width="0.5"/>
<rect x="48.5" y="338.75" width="12.5" height="8.75" fill="#e8352b" stroke="#b02818" stroke-width="0.35"/>
<line x1="48.5" y1="343.125" x2="61.0" y2="343.125" stroke="#222" stroke-width="0.4"/>
<line x1="79.25" y1="351.25" x2="79.25" y2="376.25" stroke="#555" stroke-width="0.5"/>
<line x1="76.25" y1="351.25" x2="82.25" y2="351.25" stroke="#555" stroke-width="0.5"/>
<line x1="76.25" y1="376.25" x2="82.25" y2="376.25" stroke="#555" stroke-width="0.5"/>
<rect x="73.0" y="358.75" width="12.5" height="7.5" fill="#4858a8" stroke="#2a3580" stroke-width="0.35"/>
<line x1="73.0" y1="362.5" x2="85.5" y2="362.5" stroke="#222" stroke-width="0.4"/>
<line x1="104.25" y1="330.5" x2="104.25" y2="363.25" stroke="#555" stroke-width="0.5"/>
<line x1="101.25" y1="330.5" x2="107.25" y2="330.5" stroke="#555" stroke-width="0.5"/>
<line x1="101.25" y1="363.25" x2="107.25" y2="363.25" stroke="#555" stroke-width="0.5"/>
<rect x="98.0" y="338" width="12.5" height="11.5" fill="#e8352b" stroke="#b02818" stroke-width="0.35"/>
<line x1="98.0" y1="343.75" x2="110.5" y2="343.75" stroke="#222" stroke-width="0.4"/>
<line x1="129.25" y1="340.75" x2="129.25" y2="359.25" stroke="#555" stroke-width="0.5"/>
<line x1="126.25" y1="340.75" x2="132.25" y2="340.75" stroke="#555" stroke-width="0.5"/>
<line x1="126.25" y1="359.25" x2="132.25" y2="359.25" stroke="#555" stroke-width="0.5"/>
<rect x="123.0" y="346.25" width="12.5" height="8.25" fill="#4858a8" stroke="#2a3580" stroke-width="0.35"/>
<line x1="123.0" y1="350.375" x2="135.5" y2="350.375" stroke="#222" stroke-width="0.4"/>
<line x1="154" y1="328.25" x2="154" y2="358.75" stroke="#555" stroke-width="0.5"/>
<line x1="151.0" y1="328.25" x2="157.0" y2="328.25" stroke="#555" stroke-width="0.5"/>
<line x1="151.0" y1="358.75" x2="157.0" y2="358.75" stroke="#555" stroke-width="0.5"/>
<rect x="147.75" y="338.75" width="12.5" height="9.25" fill="#e8352b" stroke="#b02818" stroke-width="0.35"/>
<line x1="147.75" y1="343.375" x2="160.25" y2="343.375" stroke="#222" stroke-width="0.4"/>
<line x1="178.75" y1="333" x2="178.75" y2="350.5" stroke="#555" stroke-width="0.5"/>
<line x1="175.75" y1="333" x2="181.75" y2="333" stroke="#555" stroke-width="0.5"/>
<line x1="175.75" y1="350.5" x2="181.75" y2="350.5" stroke="#555" stroke-width="0.5"/>
<rect x="172.5" y="340.5" width="12.5" height="5.75" fill="#4858a8" stroke="#2a3580" stroke-width="0.35"/>
<line x1="172.5" y1="343.375" x2="185.0" y2="343.375" stroke="#222" stroke-width="0.4"/>
<line x1="203.25" y1="326.25" x2="203.25" y2="360.5" stroke="#555" stroke-width="0.5"/>
<line x1="200.25" y1="326.25" x2="206.25" y2="326.25" stroke="#555" stroke-width="0.5"/>
<line x1="200.25" y1="360.5" x2="206.25" y2="360.5" stroke="#555" stroke-width="0.5"/>
<rect x="197.0" y="338.75" width="12.5" height="9.25" fill="#e8352b" stroke="#b02818" stroke-width="0.35"/>
<line x1="197.0" y1="343.375" x2="209.5" y2="343.375" stroke="#222" stroke-width="0.4"/>
<line x1="228.25" y1="349.5" x2="228.25" y2="370.5" stroke="#555" stroke-width="0.5"/>
<line x1="225.25" y1="349.5" x2="231.25" y2="349.5" stroke="#555" stroke-width="0.5"/>
<line x1="225.25" y1="370.5" x2="231.25" y2="370.5" stroke="#555" stroke-width="0.5"/>
<rect x="222.0" y="356.25" width="12.5" height="6.75" fill="#4858a8" stroke="#2a3580" stroke-width="0.35"/>
<line x1="222.0" y1="359.625" x2="234.5" y2="359.625" stroke="#222" stroke-width="0.4"/>
<line x1="252.5" y1="328.75" x2="252.5" y2="354.5" stroke="#555" stroke-width="0.5"/>
<line x1="249.5" y1="328.75" x2="255.5" y2="328.75" stroke="#555" stroke-width="0.5"/>
<line x1="249.5" y1="354.5" x2="255.5" y2="354.5" stroke="#555" stroke-width="0.5"/>
<rect x="246.25" y="338" width="12.5" height="8.25" fill="#e8352b" stroke="#b02818" stroke-width="0.35"/>
<line x1="246.25" y1="342.125" x2="258.75" y2="342.125" stroke="#222" stroke-width="0.4"/>
<circle cx="41.25" cy="316.75" r="0.85" fill="#111"/>
<circle cx="90.25" cy="316.75" r="0.85" fill="#111"/>
<circle cx="142" cy="316.75" r="0.85" fill="#111"/>
<circle cx="239.5" cy="316.75" r="0.85" fill="#111"/>
<text x="54.9" y="392.3" font-size="2.9" text-anchor="middle" font-weight="bold" fill="#333" stroke="#333" stroke-width="0.08" textLength="20.2" lengthAdjust="spacingAndGlyphs">Breast cancer</text>
<text x="103.5" y="392.3" font-size="2.9" text-anchor="middle" font-weight="bold" fill="#333" stroke="#333" stroke-width="0.08" textLength="14" lengthAdjust="spacingAndGlyphs">Colon cancer</text>
<text x="153.3" y="392.3" font-size="2.9" text-anchor="middle" font-weight="bold" fill="#333" stroke="#333" stroke-width="0.08" textLength="21.5" lengthAdjust="spacingAndGlyphs">Ovarian cancer</text>
<text x="203.6" y="392.3" font-size="2.9" text-anchor="middle" font-weight="bold" fill="#333" stroke="#333" stroke-width="0.08" textLength="20.6" lengthAdjust="spacingAndGlyphs">Clear cell RCC</text>
<text x="252.6" y="392.3" font-size="2.9" text-anchor="middle" font-weight="bold" fill="#333" stroke="#333" stroke-width="0.08" textLength="7.3" lengthAdjust="spacingAndGlyphs">HNSC</text>
<text x="140.9" y="399.3" font-size="3.7" text-anchor="middle" font-weight="bold" fill="#222" stroke="#222" stroke-width="0.1" textLength="29" lengthAdjust="spacingAndGlyphs">CPTAC samples</text>
<text x="267.5" y="224" font-size="6.42" text-anchor="start" font-weight="bold" fill="#111" stroke="#111" stroke-width="0.1">K</text>
<line x1="289.5" y1="230.5" x2="289.5" y2="295.5" stroke="#111" stroke-width="0.7"/>
<line x1="289.5" y1="295.5" x2="369" y2="295.5" stroke="#111" stroke-width="0.7"/>
<line x1="288.5" y1="230.5" x2="289.5" y2="230.5" stroke="#111" stroke-width="0.4"/>
<text x="287.4" y="231.75" font-size="3.5" text-anchor="end" font-weight="normal" fill="#222" stroke="#222" stroke-width="0.1">1.0</text>
<line x1="288.5" y1="243.5" x2="289.5" y2="243.5" stroke="#111" stroke-width="0.4"/>
<text x="287.4" y="244.75" font-size="3.5" text-anchor="end" font-weight="normal" fill="#222" stroke="#222" stroke-width="0.1">0.8</text>
<line x1="288.5" y1="256.5" x2="289.5" y2="256.5" stroke="#111" stroke-width="0.4"/>
<text x="287.4" y="257.75" font-size="3.5" text-anchor="end" font-weight="normal" fill="#222" stroke="#222" stroke-width="0.1">0.6</text>
<line x1="288.5" y1="269.5" x2="289.5" y2="269.5" stroke="#111" stroke-width="0.4"/>
<text x="287.4" y="270.75" font-size="3.5" text-anchor="end" font-weight="normal" fill="#222" stroke="#222" stroke-width="0.1">0.4</text>
<line x1="288.5" y1="282.5" x2="289.5" y2="282.5" stroke="#111" stroke-width="0.4"/>
<text x="287.4" y="283.75" font-size="3.5" text-anchor="end" font-weight="normal" fill="#222" stroke="#222" stroke-width="0.1">0.2</text>
<line x1="288.5" y1="295.5" x2="289.5" y2="295.5" stroke="#111" stroke-width="0.4"/>
<text x="287.4" y="296.75" font-size="3.5" text-anchor="end" font-weight="normal" fill="#222" stroke="#222" stroke-width="0.1">0.0</text>
<line x1="289.6" y1="295.5" x2="289.6" y2="296.5" stroke="#111" stroke-width="0.4"/>
<text x="289.6" y="300.2" font-size="3.3" text-anchor="middle" font-weight="normal" fill="#222" stroke="#222" stroke-width="0.1">0</text>
<line x1="306.00000000000006" y1="295.5" x2="306.00000000000006" y2="296.5" stroke="#111" stroke-width="0.4"/>
<text x="306.00000000000006" y="300.2" font-size="3.3" text-anchor="middle" font-weight="normal" fill="#222" stroke="#222" stroke-width="0.1">12</text>
<line x1="321.6" y1="295.5" x2="321.6" y2="296.5" stroke="#111" stroke-width="0.4"/>
<text x="321.6" y="300.2" font-size="3.3" text-anchor="middle" font-weight="normal" fill="#222" stroke="#222" stroke-width="0.1">24</text>
<line x1="337.20000000000005" y1="295.5" x2="337.20000000000005" y2="296.5" stroke="#111" stroke-width="0.4"/>
<text x="337.20000000000005" y="300.2" font-size="3.3" text-anchor="middle" font-weight="normal" fill="#222" stroke="#222" stroke-width="0.1">36</text>
<line x1="352.8" y1="295.5" x2="352.8" y2="296.5" stroke="#111" stroke-width="0.4"/>
<text x="352.8" y="300.2" font-size="3.3" text-anchor="middle" font-weight="normal" fill="#222" stroke="#222" stroke-width="0.1">48</text>
<line x1="368.40000000000003" y1="295.5" x2="368.40000000000003" y2="296.5" stroke="#111" stroke-width="0.4"/>
<text x="368.40000000000003" y="300.2" font-size="3.3" text-anchor="middle" font-weight="normal" fill="#222" stroke="#222" stroke-width="0.1">60</text>
<text x="279.3" y="265.4" font-size="5.2" text-anchor="middle" font-weight="normal" fill="#222" stroke="#222" stroke-width="0.15" textLength="46.5" lengthAdjust="spacingAndGlyphs" transform="rotate(-90 279.3 265.4)">Survival probability</text>
<text x="329.3" y="306.2" font-size="4.9" text-anchor="middle" font-weight="normal" fill="#222" stroke="#222" stroke-width="0.15" textLength="61.5" lengthAdjust="spacingAndGlyphs">Time since surgery (months)</text>
<path d="M289.6,230.4 H290.66 V230.40 H291.98 V230.40 H293.21 V230.95 H294.05 V231.47 H294.88 V231.76 H295.74 V231.76 H296.88 V233.25 H297.78 V233.25 H299.08 V235.51 H300.34 V235.86 H301.92 V236.69 H303.41 V238.21 H304.33 V238.56 H305.37 V240.22 H306.32 V240.50 H307.63 V240.94 H308.87 V241.12 H309.71 V241.75 H311.06 V242.73 H312.11 V243.55 H313.27 V243.90 H314.71 V245.39 H315.70 V245.85 H316.92 V246.98 H318.31 V246.98 H319.89 V247.38 H321.03 V248.83 H321.95 V248.83 H322.78 V249.39 H324.19 V249.79 H325.69 V249.99 H327.05 V251.30 H328.31 V252.12 H329.78 V254.00 H330.96 V254.56 H331.81 V255.14 H333.13 V256.22 H334.59 V256.22 H335.69 V257.07 H336.51 V257.19 H337.45 V257.19 H338.29 V258.78 H339.20 V258.84 H340.31 V260.69 H341.18 V260.86 H342.41 V262.55 H343.87 V263.80 H344.89 V263.80 H345.98 V264.75 H347.55 V264.75 H348.49 V264.88 H349.47 V265.64 H350.74 V265.89 H351.55 V266.50 H352.64 V267.25 H354.21 V268.19 H355.42 V268.68 H356.76 V268.68 H358.28 V270.18 H359.78 V270.83 H360.89 V270.83 H361.78 V271.42 H362.63 V271.42 H363.59 V271.46 H364.66 V271.66 H365.46 V272.07 H366.35 V272.66 H367.17 V273.65 H368.46 V273.65 H368.60 V273.65" fill="none" stroke="#4274b8" stroke-width="1.4" stroke-linejoin="round"/>
<path d="M289.6,230.4 H290.90 V230.94 H292.33 V231.44 H293.73 V231.67 H294.55 V231.67 H296.10 V232.15 H297.63 V232.15 H298.80 V233.15 H300.04 V234.06 H300.85 V234.06 H301.87 V234.39 H303.28 V234.39 H304.72 V234.50 H306.01 V235.04 H306.82 V236.43 H307.78 V236.43 H309.37 V237.71 H310.40 V238.35 H311.63 V238.56 H312.60 V239.29 H313.95 V239.83 H315.46 V239.83 H316.55 V239.83 H317.47 V240.15 H318.51 V241.54 H319.31 V242.13 H320.38 V242.27 H321.84 V243.29 H322.89 V243.70 H324.25 V243.70 H325.83 V244.23 H327.23 V245.92 H328.05 V246.15 H329.14 V246.28 H329.95 V246.28 H330.89 V247.48 H331.85 V247.69 H333.39 V248.88 H334.47 V248.88 H335.69 V250.03 H336.58 V250.53 H338.01 V251.51 H338.84 V252.05 H339.72 V252.05 H341.00 V253.09 H342.08 V253.63 H343.31 V253.63 H344.37 V253.69 H345.23 V254.00 H346.58 V255.72 H347.51 V255.72 H349.10 V256.07 H350.22 V256.10 H351.50 V257.57 H352.66 V257.59 H353.51 V258.71 H354.33 V258.71 H355.80 V258.78 H357.19 V260.56 H358.49 V260.85 H359.38 V260.85 H360.30 V261.65 H361.33 V261.65 H362.93 V262.71 H364.51 V262.73 H365.71 V263.55 H366.89 V263.55 H368.01 V263.59 H368.60 V264.98" fill="none" stroke="#d83a3a" stroke-width="1.4" stroke-linejoin="round"/>
<line x1="293.8" y1="262.2" x2="299.2" y2="262.2" stroke="#3a78c8" stroke-width="0.8"/>
<path d="M295.6,263 L296.5,261.3 L297.4,263 Z" fill="#3a78c8"/>
<text x="301.4" y="263.8" font-size="3.5" text-anchor="start" font-weight="normal" fill="#222" stroke="#222" stroke-width="0.1" textLength="6.8" lengthAdjust="spacingAndGlyphs">Low</text>
<line x1="293.8" y1="268.8" x2="299.2" y2="268.8" stroke="#e03a3a" stroke-width="0.8"/>
<path d="M295.6,269.6 L296.5,267.9 L297.4,269.6 Z" fill="#e03a3a"/>
<text x="301.4" y="270.2" font-size="3.5" text-anchor="start" font-weight="normal" fill="#222" stroke="#222" stroke-width="0.1" textLength="7.6" lengthAdjust="spacingAndGlyphs">High</text>
<text x="293.2" y="277.4" font-size="2.7" text-anchor="start" font-weight="normal" fill="#333" stroke="#333" stroke-width="0.06" textLength="30.3" lengthAdjust="spacingAndGlyphs">log rank p-value = 0.0048</text>
<text x="268" y="312.3" font-size="6.206" text-anchor="start" font-weight="bold" fill="#111" stroke="#111" stroke-width="0.1">L</text>
<rect x="289.8" y="315.2" width="80.6" height="67.8" fill="none" stroke="#999" stroke-width="0.45"/>
<line x1="289.5" y1="318.75" x2="290.25" y2="318.75" stroke="#888" stroke-width="0.3"/>
<text x="288.6" y="319.5" font-size="2.2" text-anchor="end" font-weight="normal" fill="#333" stroke="#333" stroke-width="0.05" textLength="6.2" lengthAdjust="spacingAndGlyphs">250000</text>
<line x1="289.5" y1="331.0" x2="290.25" y2="331.0" stroke="#888" stroke-width="0.3"/>
<text x="288.6" y="331.75" font-size="2.2" text-anchor="end" font-weight="normal" fill="#333" stroke="#333" stroke-width="0.05" textLength="6.2" lengthAdjust="spacingAndGlyphs">200000</text>
<line x1="289.5" y1="343.25" x2="290.25" y2="343.25" stroke="#888" stroke-width="0.3"/>
<text x="288.6" y="344.0" font-size="2.2" text-anchor="end" font-weight="normal" fill="#333" stroke="#333" stroke-width="0.05" textLength="6.2" lengthAdjust="spacingAndGlyphs">150000</text>
<line x1="289.5" y1="355.5" x2="290.25" y2="355.5" stroke="#888" stroke-width="0.3"/>
<text x="288.6" y="356.25" font-size="2.2" text-anchor="end" font-weight="normal" fill="#333" stroke="#333" stroke-width="0.05" textLength="6.2" lengthAdjust="spacingAndGlyphs">100000</text>
<line x1="289.5" y1="367.75" x2="290.25" y2="367.75" stroke="#888" stroke-width="0.3"/>
<text x="288.6" y="368.5" font-size="2.2" text-anchor="end" font-weight="normal" fill="#333" stroke="#333" stroke-width="0.05" textLength="6.2" lengthAdjust="spacingAndGlyphs">50000</text>
<line x1="289.5" y1="380.0" x2="290.25" y2="380.0" stroke="#888" stroke-width="0.3"/>
<text x="288.6" y="380.75" font-size="2.2" text-anchor="end" font-weight="normal" fill="#333" stroke="#333" stroke-width="0.05" textLength="6.2" lengthAdjust="spacingAndGlyphs">0</text>
<text x="280.2" y="349" font-size="2.6" text-anchor="middle" font-weight="bold" fill="#222" stroke="#222" stroke-width="0.12" textLength="21.5" lengthAdjust="spacingAndGlyphs" transform="rotate(-90 280.2 349)">YTHDF2 expression</text>
<line x1="312.1" y1="370" x2="312.1" y2="379.5" stroke="#888" stroke-width="0.4"/>
<line x1="310.5" y1="370" x2="313.7" y2="370" stroke="#888" stroke-width="0.4"/>
<rect x="307.25" y="375.5" width="9.75" height="4" fill="#3c3ca8" stroke="none" stroke-width="0"/>
<circle cx="312.1" cy="344.5" r="0.35" fill="#777"/>
<circle cx="312.1" cy="348" r="0.35" fill="#777"/>
<circle cx="312.1" cy="351.5" r="0.35" fill="#777"/>
<circle cx="312.1" cy="355" r="0.35" fill="#777"/>
<circle cx="312.1" cy="358.5" r="0.35" fill="#777"/>
<circle cx="312.1" cy="362" r="0.35" fill="#777"/>
<circle cx="312.1" cy="365.5" r="0.35" fill="#777"/>
<circle cx="312.1" cy="368.5" r="0.35" fill="#777"/>
<line x1="349" y1="335.6" x2="349" y2="377" stroke="#888" stroke-width="0.45"/>
<line x1="347.2" y1="335.6" x2="350.8" y2="335.6" stroke="#555" stroke-width="0.45"/>
<line x1="347.2" y1="377" x2="350.8" y2="377" stroke="#555" stroke-width="0.45"/>
<rect x="344" y="356.1" width="10" height="14" fill="#e5303a" stroke="none" stroke-width="0"/>
<line x1="344" y1="364" x2="354" y2="364" stroke="#822" stroke-width="0.35"/>
<circle cx="349" cy="319" r="0.6" fill="#444"/>
<circle cx="349" cy="321.6" r="0.6" fill="#444"/>
<circle cx="349" cy="332" r="0.6" fill="#444"/>
<circle cx="330.25" cy="320.5" r="1.2" fill="#111"/>
<text x="312.3" y="386.3" font-size="2.2" text-anchor="middle" font-weight="normal" fill="#333" stroke="#333" stroke-width="0.05" textLength="5.6" lengthAdjust="spacingAndGlyphs">Normal</text>
<text x="348.75" y="386.3" font-size="2.2" text-anchor="middle" font-weight="normal" fill="#333" stroke="#333" stroke-width="0.05" textLength="5.4" lengthAdjust="spacingAndGlyphs">Tumor</text>
<text x="330.3" y="389.3" font-size="2.5" text-anchor="middle" font-weight="normal" fill="#333" textLength="6.5" lengthAdjust="spacingAndGlyphs">Tissue</text>
</svg></body></html>
